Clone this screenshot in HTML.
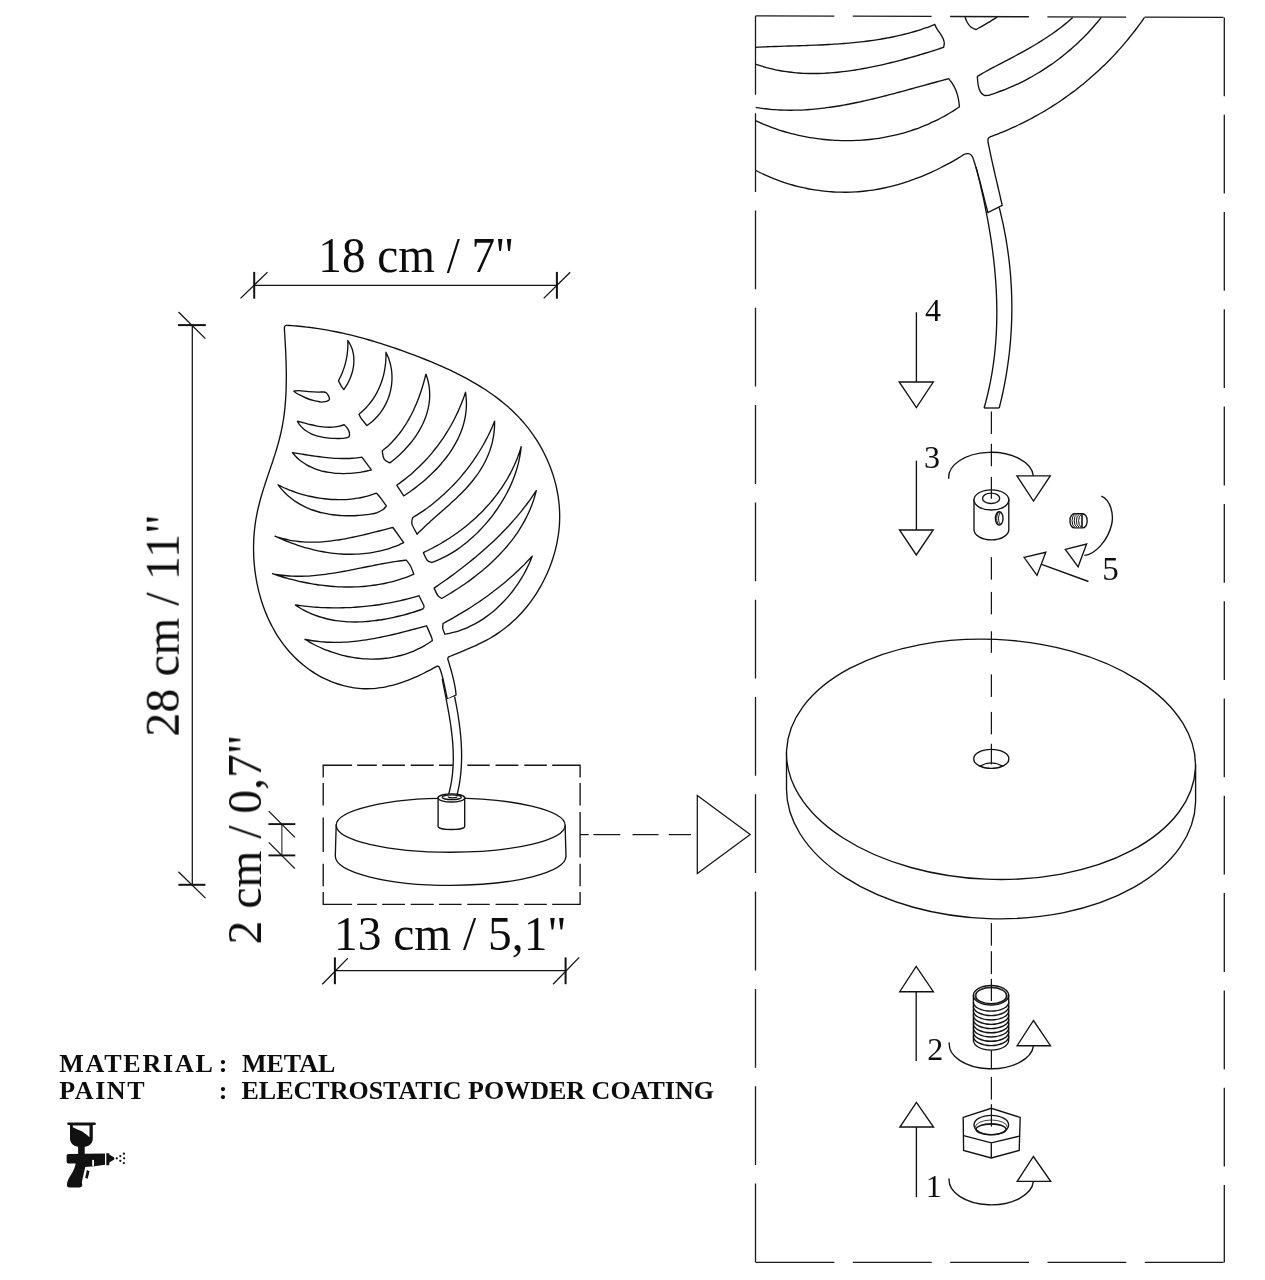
<!DOCTYPE html>
<html><head><meta charset="utf-8"><title>Leaf lamp assembly</title><style>
html,body{margin:0;padding:0;background:#fff;}
body{width:1265px;height:1280px;overflow:hidden;}
svg{display:block;}
.ln path,.ln line,.ln polygon,.ln ellipse,.ln rect,.ln use{fill:none;stroke:#111;stroke-width:1.35;}
#leaf path{fill:none;stroke:#111;stroke-width:1.35;vector-effect:non-scaling-stroke;stroke-linejoin:round;}
.ln .w{fill:#fff;}
.ln2 line,.ln2 polygon{fill:none;stroke:#151515;stroke-width:1.25;}
.dash1 path{stroke:#141414;stroke-width:1.35;fill:none;}
.dash2 line{stroke:#1a1a1a;stroke-width:1.3;stroke-dasharray:78.8 18.5;fill:none;}
.dim line{stroke:#111;stroke-width:1.25;}
.t text{font-family:"Liberation Serif",serif;fill:#0d0d0d;}
.t{filter:grayscale(1);}
svg{-webkit-font-smoothing:antialiased;}
</style></head>
<body><svg width="1265" height="1280" viewBox="0 0 1265 1280">
<defs>
<g id="leaf"><path d="M286.7,325.3C287.54,325.35 290.06,325.51 291.74,325.63C293.41,325.75 295.08,325.88 296.75,326.03C298.41,326.18 300.07,326.34 301.73,326.51C303.38,326.68 305.03,326.86 306.68,327.05C308.33,327.25 309.97,327.45 311.61,327.67C313.25,327.89 314.89,328.12 316.52,328.36C318.15,328.6 319.77,328.85 321.4,329.11C323.02,329.37 324.64,329.65 326.26,329.93C327.88,330.21 329.49,330.51 331.1,330.81C332.71,331.12 334.32,331.43 335.92,331.76C337.52,332.08 339.12,332.42 340.72,332.76C342.32,333.11 343.91,333.46 345.51,333.83C347.1,334.19 348.69,334.57 350.28,334.95C351.86,335.33 353.45,335.73 355.03,336.13C356.62,336.53 358.2,336.94 359.77,337.36C361.35,337.78 362.93,338.21 364.5,338.65C366.08,339.09 367.65,339.53 369.22,339.99C370.8,340.44 372.36,340.9 373.93,341.37C375.5,341.84 377.07,342.32 378.63,342.81C380.2,343.3 381.76,343.79 383.33,344.29C384.89,344.79 386.45,345.3 388.02,345.82C389.58,346.34 391.14,346.86 392.7,347.39C394.26,347.92 395.82,348.46 397.38,349.01C398.94,349.55 400.5,350.1 402.06,350.66C403.61,351.22 405.17,351.78 406.73,352.35C408.29,352.92 409.85,353.5 411.41,354.08C412.97,354.67 414.52,355.26 416.08,355.85C417.64,356.45 419.2,357.05 420.76,357.66C422.31,358.27 423.87,358.88 425.43,359.5C426.98,360.13 428.53,360.76 430.08,361.39C431.63,362.03 433.18,362.68 434.72,363.33C436.27,363.98 437.81,364.65 439.35,365.32C440.88,365.99 442.42,366.67 443.94,367.35C445.47,368.04 447,368.74 448.52,369.45C450.03,370.15 451.55,370.87 453.05,371.6C454.56,372.33 456.06,373.06 457.56,373.81C459.05,374.56 460.54,375.31 462.02,376.08C463.5,376.85 464.97,377.63 466.43,378.42C467.9,379.22 469.35,380.02 470.8,380.83C472.25,381.65 473.68,382.48 475.11,383.32C476.54,384.16 477.96,385.01 479.37,385.87C480.78,386.74 482.17,387.61 483.56,388.51C484.95,389.4 486.32,390.3 487.69,391.22C489.05,392.14 490.4,393.07 491.74,394.02C493.08,394.96 494.41,395.92 495.72,396.9C497.03,397.87 498.33,398.86 499.62,399.87C500.91,400.88 502.18,401.9 503.44,402.93C504.7,403.97 505.94,405.02 507.17,406.09C508.39,407.16 509.61,408.24 510.8,409.34C512,410.44 513.18,411.56 514.34,412.7C515.5,413.83 516.65,414.98 517.78,416.15C518.91,417.32 520.02,418.51 521.11,419.72C522.21,420.92 523.28,422.14 524.34,423.39C525.39,424.63 526.43,425.89 527.45,427.17C528.46,428.45 529.46,429.74 530.44,431.06C531.42,432.37 532.37,433.71 533.31,435.05C534.25,436.4 535.16,437.77 536.05,439.15C536.95,440.53 537.82,441.93 538.67,443.34C539.52,444.75 540.35,446.18 541.15,447.62C541.95,449.06 542.74,450.52 543.49,451.98C544.25,453.45 544.98,454.93 545.69,456.42C546.4,457.92 547.09,459.42 547.75,460.94C548.41,462.45 549.05,463.98 549.66,465.52C550.27,467.06 550.85,468.61 551.41,470.16C551.97,471.72 552.5,473.29 553.01,474.87C553.51,476.44 553.99,478.03 554.45,479.62C554.9,481.21 555.32,482.81 555.72,484.42C556.11,486.02 556.48,487.64 556.82,489.26C557.16,490.88 557.47,492.5 557.75,494.13C558.03,495.76 558.28,497.4 558.5,499.04C558.72,500.68 558.91,502.32 559.07,503.97C559.23,505.62 559.36,507.27 559.46,508.92C559.56,510.58 559.62,512.23 559.66,513.89C559.69,515.55 559.69,517.2 559.66,518.86C559.63,520.52 559.57,522.18 559.47,523.84C559.38,525.5 559.25,527.16 559.09,528.82C558.92,530.48 558.73,532.13 558.51,533.78C558.28,535.44 558.03,537.09 557.74,538.73C557.46,540.38 557.14,542.02 556.8,543.66C556.45,545.29 556.08,546.93 555.68,548.55C555.28,550.17 554.85,551.79 554.39,553.4C553.93,555.01 553.45,556.62 552.93,558.21C552.42,559.8 551.88,561.39 551.32,562.96C550.76,564.53 550.17,566.1 549.55,567.65C548.94,569.2 548.3,570.74 547.64,572.27C546.97,573.8 546.29,575.31 545.58,576.81C544.87,578.31 544.14,579.8 543.38,581.27C542.63,582.74 541.85,584.2 541.05,585.64C540.25,587.08 539.42,588.51 538.58,589.92C537.73,591.33 536.87,592.72 535.98,594.1C535.09,595.48 534.18,596.84 533.24,598.18C532.31,599.52 531.36,600.85 530.38,602.16C529.4,603.46 528.4,604.75 527.38,606.03C526.36,607.3 525.32,608.55 524.26,609.78C523.2,611.02 522.11,612.23 521.01,613.43C519.9,614.62 518.77,615.8 517.63,616.95C516.48,618.11 515.31,619.24 514.12,620.35C512.93,621.46 511.72,622.56 510.49,623.63C509.26,624.7 508.01,625.75 506.74,626.77C505.47,627.8 504.17,628.8 502.86,629.78C501.55,630.76 500.22,631.72 498.86,632.66C497.51,633.59 496.14,634.5 494.75,635.39C493.35,636.28 491.94,637.14 490.51,637.98C489.08,638.81 487.62,639.63 486.15,640.42C484.69,641.21 483.2,641.97 481.7,642.72C480.2,643.46 478.68,644.19 477.16,644.9C475.64,645.61 474.1,646.3 472.57,646.98C471.03,647.66 469.49,648.32 467.94,648.97C466.4,649.63 464.85,650.27 463.31,650.91C461.77,651.54 460.23,652.17 458.69,652.79C457.16,653.42 455.63,654.03 454.12,654.65C452.6,655.27 450.35,656.19 449.6,656.5C449.35,656.68 448.4,657.18 448.1,657.6C447.8,658.02 447.85,658.77 447.8,659C448.02,659.74 448.69,661.94 449.13,663.42C449.57,664.89 450.02,666.37 450.44,667.86C450.87,669.34 451.29,670.83 451.7,672.32C452.1,673.82 452.5,675.32 452.87,676.82C453.24,678.32 453.6,679.82 453.92,681.33C454.25,682.84 454.56,684.35 454.83,685.87C455.11,687.38 455.36,688.9 455.57,690.42C455.78,691.95 456.01,694.24 456.1,695L447.4,699C447.23,698.26 446.69,696.04 446.35,694.55C446.02,693.07 445.71,691.57 445.4,690.08C445.09,688.59 444.79,687.09 444.47,685.6C444.15,684.11 443.84,682.62 443.5,681.13C443.15,679.65 442.8,678.17 442.41,676.7C442.01,675.23 441.6,673.76 441.13,672.31C440.66,670.86 439.86,668.72 439.6,668C439.43,667.73 439.07,666.68 438.6,666.4C438.13,666.12 437.1,666.32 436.8,666.3C436.1,666.69 434.02,667.88 432.6,668.66C431.19,669.44 429.75,670.21 428.29,670.97C426.84,671.74 425.37,672.49 423.88,673.23C422.4,673.96 420.89,674.69 419.38,675.4C417.86,676.1 416.33,676.8 414.78,677.47C413.24,678.14 411.68,678.79 410.11,679.42C408.55,680.05 406.97,680.66 405.38,681.24C403.79,681.82 402.19,682.38 400.58,682.9C398.98,683.43 397.36,683.93 395.74,684.4C394.12,684.86 392.49,685.3 390.86,685.7C389.23,686.1 387.59,686.47 385.95,686.8C384.31,687.13 382.66,687.42 381.01,687.67C379.37,687.92 377.72,688.13 376.07,688.3C374.42,688.46 372.77,688.59 371.12,688.66C369.47,688.74 367.82,688.77 366.18,688.75C364.53,688.74 362.89,688.67 361.25,688.56C359.61,688.46 357.98,688.3 356.35,688.1C354.72,687.91 353.1,687.67 351.48,687.39C349.87,687.1 348.26,686.78 346.66,686.41C345.06,686.05 343.47,685.64 341.89,685.2C340.31,684.76 338.74,684.27 337.18,683.75C335.63,683.23 334.08,682.67 332.55,682.08C331.02,681.48 329.5,680.85 328,680.19C326.5,679.52 325.01,678.82 323.54,678.09C322.07,677.35 320.61,676.58 319.18,675.79C317.74,674.99 316.33,674.16 314.93,673.3C313.53,672.43 312.16,671.54 310.8,670.62C309.45,669.7 308.11,668.75 306.8,667.78C305.49,666.8 304.21,665.79 302.95,664.76C301.68,663.73 300.45,662.68 299.23,661.59C298.02,660.51 296.83,659.41 295.67,658.28C294.5,657.14 293.36,655.99 292.25,654.81C291.13,653.63 290.04,652.43 288.98,651.21C287.91,649.99 286.87,648.74 285.85,647.48C284.83,646.21 283.84,644.92 282.87,643.62C281.9,642.31 280.96,640.98 280.04,639.64C279.12,638.3 278.22,636.93 277.35,635.55C276.48,634.17 275.63,632.77 274.8,631.35C273.98,629.94 273.18,628.5 272.41,627.05C271.63,625.61 270.88,624.14 270.15,622.66C269.43,621.18 268.72,619.69 268.04,618.18C267.37,616.67 266.71,615.15 266.08,613.62C265.45,612.09 264.84,610.54 264.26,608.98C263.68,607.43 263.12,605.86 262.58,604.28C262.05,602.7 261.54,601.11 261.05,599.51C260.56,597.91 260.1,596.3 259.66,594.68C259.22,593.06 258.81,591.44 258.42,589.8C258.02,588.17 257.66,586.53 257.31,584.88C256.97,583.24 256.65,581.58 256.35,579.93C256.06,578.27 255.78,576.6 255.53,574.93C255.28,573.27 255.06,571.59 254.86,569.92C254.66,568.24 254.48,566.56 254.32,564.88C254.17,563.2 254.04,561.52 253.93,559.84C253.82,558.15 253.74,556.47 253.68,554.78C253.62,553.1 253.58,551.41 253.57,549.73C253.55,548.04 253.56,546.36 253.6,544.68C253.63,543 253.69,541.32 253.77,539.64C253.85,537.96 253.95,536.29 254.08,534.62C254.21,532.95 254.36,531.29 254.53,529.63C254.71,527.97 254.9,526.31 255.12,524.66C255.34,523.02 255.59,521.37 255.85,519.74C256.12,518.1 256.41,516.47 256.72,514.85C257.04,513.23 257.37,511.62 257.73,510.02C258.09,508.41 258.46,506.82 258.86,505.22C259.25,503.63 259.67,502.05 260.09,500.47C260.52,498.89 260.97,497.31 261.42,495.74C261.88,494.17 262.35,492.61 262.83,491.05C263.31,489.49 263.8,487.93 264.3,486.38C264.79,484.82 265.3,483.27 265.81,481.72C266.33,480.17 266.85,478.62 267.37,477.08C267.89,475.53 268.41,473.99 268.94,472.44C269.46,470.9 269.99,469.35 270.51,467.81C271.04,466.26 271.56,464.72 272.08,463.17C272.59,461.62 273.11,460.08 273.62,458.53C274.12,456.97 274.62,455.42 275.12,453.87C275.61,452.31 276.09,450.75 276.56,449.19C277.03,447.63 277.49,446.06 277.94,444.49C278.38,442.92 278.81,441.35 279.23,439.77C279.64,438.18 280.04,436.6 280.42,435C280.8,433.41 281.16,431.81 281.5,430.21C281.84,428.6 282.15,426.98 282.45,425.36C282.75,423.74 283.03,422.12 283.28,420.48C283.54,418.85 283.78,417.21 284,415.57C284.22,413.93 284.42,412.28 284.61,410.63C284.79,408.97 284.96,407.32 285.11,405.65C285.26,403.99 285.4,402.33 285.52,400.66C285.64,399 285.74,397.33 285.84,395.65C285.93,393.98 286,392.31 286.07,390.63C286.13,388.96 286.18,387.28 286.22,385.6C286.26,383.93 286.28,382.25 286.3,380.57C286.32,378.89 286.32,377.21 286.32,375.54C286.31,373.86 286.29,372.18 286.27,370.51C286.25,368.84 286.21,367.16 286.17,365.49C286.13,363.82 286.08,362.15 286.03,360.49C285.97,358.82 285.91,357.16 285.84,355.5C285.77,353.84 285.7,352.19 285.62,350.54C285.54,348.89 285.45,347.24 285.36,345.6C285.28,343.96 285.18,342.33 285.09,340.7C285,339.07 284.9,337.45 284.8,335.83C284.7,334.21 284.55,331.8 284.5,331C284.52,330.27 284.23,327.55 284.6,326.6C284.97,325.65 286.35,325.52 286.7,325.3Z"/><path d="M293.8,391.1C294.67,391.03 296.55,390.62 299,390.7C301.45,390.78 305.33,391.37 308.5,391.6C311.67,391.83 315.48,392.03 318,392.1C320.52,392.17 322.23,391.88 323.6,392C324.97,392.12 325.4,392.18 326.2,392.8C327,393.42 327.85,394.7 328.4,395.7C328.95,396.7 329.52,397.98 329.5,398.8C329.48,399.62 328.97,400.13 328.3,400.6C327.63,401.07 326.67,401.35 325.5,401.6C324.33,401.85 322.95,402.22 321.3,402.1C319.65,401.98 317.73,401.42 315.6,400.9C313.47,400.38 310.88,399.87 308.5,399C306.12,398.13 303.43,396.73 301.3,395.7C299.17,394.67 296.95,393.57 295.7,392.8C294.45,392.03 294.12,391.38 293.8,391.1Z"/><path d="M297.4,421.2C298.16,421.4 300.44,422.01 301.97,422.41C303.5,422.82 305.04,423.24 306.58,423.63C308.12,424.03 309.67,424.42 311.22,424.78C312.78,425.14 314.34,425.49 315.9,425.79C317.46,426.09 319.03,426.36 320.6,426.58C322.16,426.8 323.74,426.97 325.31,427.08C326.88,427.19 328.46,427.24 330.03,427.22C331.61,427.19 333.18,427.1 334.76,426.91C336.33,426.73 337.91,426.47 339.48,426.1C341.06,425.73 343.41,424.93 344.2,424.7C344.74,425.3 346.56,426.92 347.44,428.31C348.32,429.71 349.26,431.61 349.48,433.06C349.69,434.52 349.71,436.16 348.73,437.03C347.75,437.91 344.45,438.09 343.6,438.3C342.85,438.33 340.65,438.45 339.12,438.48C337.59,438.5 336.01,438.5 334.42,438.44C332.84,438.39 331.22,438.3 329.6,438.15C327.99,438.01 326.36,437.82 324.75,437.56C323.14,437.31 321.53,437 319.95,436.63C318.38,436.25 316.81,435.81 315.3,435.3C313.79,434.78 312.3,434.2 310.88,433.53C309.47,432.87 308.09,432.12 306.79,431.29C305.5,430.45 304.26,429.53 303.12,428.51C301.99,427.49 300.92,426.39 299.96,425.17C299.01,423.95 297.83,421.86 297.4,421.2Z"/><path d="M292.4,452.6C293.22,452.73 295.67,453.12 297.31,453.39C298.95,453.65 300.59,453.92 302.23,454.19C303.88,454.45 305.53,454.72 307.17,454.98C308.82,455.24 310.47,455.49 312.13,455.74C313.78,455.98 315.44,456.22 317.09,456.45C318.75,456.67 320.4,456.89 322.06,457.08C323.72,457.28 325.38,457.47 327.04,457.63C328.7,457.79 330.36,457.94 332.02,458.06C333.69,458.19 335.35,458.29 337.01,458.37C338.67,458.44 340.33,458.5 342,458.52C343.66,458.54 345.32,458.54 346.98,458.5C348.64,458.46 350.3,458.39 351.96,458.28C353.62,458.18 355.28,458.04 356.93,457.86C358.59,457.68 361.07,457.31 361.9,457.2L371.4,469.9C370.66,470.08 368.47,470.64 366.97,470.97C365.48,471.29 363.95,471.6 362.41,471.87C360.87,472.14 359.31,472.38 357.74,472.59C356.16,472.8 354.57,472.98 352.98,473.12C351.38,473.26 349.77,473.38 348.16,473.45C346.55,473.52 344.93,473.56 343.31,473.55C341.7,473.55 340.08,473.51 338.46,473.42C336.85,473.34 335.24,473.21 333.63,473.05C332.03,472.88 330.44,472.67 328.85,472.41C327.27,472.15 325.7,471.85 324.15,471.49C322.6,471.14 321.06,470.74 319.55,470.29C318.03,469.84 316.54,469.34 315.07,468.78C313.6,468.23 312.16,467.62 310.75,466.96C309.34,466.3 307.96,465.58 306.61,464.8C305.27,464.03 303.95,463.2 302.68,462.3C301.41,461.41 300.17,460.46 298.98,459.45C297.8,458.43 296.65,457.36 295.55,456.22C294.45,455.08 292.92,453.2 292.4,452.6Z"/><path d="M278.1,484.9C278.81,485.25 280.91,486.32 282.34,487C283.77,487.67 285.22,488.32 286.69,488.94C288.16,489.56 289.64,490.15 291.14,490.72C292.64,491.29 294.15,491.84 295.67,492.35C297.2,492.87 298.74,493.36 300.29,493.82C301.84,494.29 303.4,494.73 304.97,495.14C306.54,495.54 308.12,495.93 309.71,496.28C311.3,496.64 312.89,496.97 314.5,497.27C316.1,497.57 317.71,497.84 319.32,498.08C320.93,498.33 322.55,498.54 324.17,498.73C325.79,498.92 327.42,499.08 329.04,499.21C330.66,499.34 332.29,499.44 333.92,499.52C335.54,499.59 337.17,499.63 338.79,499.64C340.41,499.64 342.03,499.62 343.65,499.57C345.27,499.51 346.88,499.42 348.49,499.3C350.1,499.17 351.7,499.02 353.3,498.82C354.89,498.63 356.48,498.4 358.06,498.14C359.64,497.87 361.21,497.57 362.77,497.23C364.33,496.89 365.89,496.51 367.42,496.09C368.96,495.67 370.49,495.22 372,494.72C373.52,494.22 375.75,493.37 376.5,493.1C377.33,494.1 379.87,496.95 381.5,499.1C383.13,501.25 385.5,504.85 386.3,506C385.72,506.63 384.43,508.63 382.8,509.8C381.17,510.97 377.55,512.47 376.5,513C375.71,513.14 373.34,513.6 371.75,513.87C370.15,514.13 368.54,514.37 366.93,514.58C365.31,514.79 363.68,514.98 362.05,515.14C360.42,515.3 358.78,515.43 357.13,515.53C355.49,515.64 353.84,515.71 352.19,515.75C350.54,515.8 348.89,515.81 347.23,515.79C345.58,515.77 343.93,515.72 342.28,515.64C340.63,515.56 338.98,515.44 337.34,515.29C335.7,515.14 334.07,514.95 332.44,514.73C330.81,514.51 329.19,514.25 327.58,513.96C325.97,513.66 324.37,513.33 322.78,512.96C321.19,512.59 319.62,512.18 318.06,511.73C316.5,511.28 314.95,510.79 313.42,510.26C311.89,509.73 310.38,509.16 308.89,508.55C307.4,507.93 305.93,507.28 304.48,506.58C303.03,505.87 301.6,505.13 300.2,504.34C298.79,503.55 297.41,502.71 296.06,501.83C294.71,500.95 293.38,500.02 292.09,499.04C290.79,498.06 289.53,497.04 288.29,495.96C287.06,494.88 285.85,493.76 284.68,492.58C283.52,491.4 282.38,490.18 281.28,488.9C280.19,487.62 278.63,485.57 278.1,484.9Z"/><path d="M275,536.2C275.78,536.45 278.13,537.26 279.69,537.73C281.26,538.2 282.83,538.62 284.4,539.01C285.97,539.4 287.54,539.75 289.11,540.06C290.69,540.37 292.26,540.64 293.84,540.88C295.42,541.12 297,541.33 298.58,541.5C300.16,541.67 301.74,541.8 303.32,541.91C304.91,542.02 306.49,542.09 308.07,542.14C309.66,542.18 311.24,542.2 312.83,542.19C314.41,542.18 316,542.14 317.59,542.07C319.17,542.01 320.76,541.92 322.34,541.8C323.93,541.69 325.52,541.55 327.1,541.4C328.69,541.24 330.28,541.06 331.86,540.86C333.45,540.66 335.03,540.44 336.62,540.2C338.2,539.97 339.78,539.71 341.37,539.45C342.95,539.18 344.53,538.89 346.11,538.59C347.69,538.29 349.27,537.98 350.85,537.66C352.43,537.33 354,537 355.58,536.65C357.15,536.31 358.72,535.95 360.29,535.59C361.86,535.23 363.43,534.85 365,534.48C366.57,534.1 368.13,533.72 369.69,533.33C371.25,532.95 372.81,532.56 374.37,532.17C375.93,531.77 377.48,531.38 379.03,530.99C380.58,530.59 382.13,530.2 383.67,529.81C385.22,529.42 386.76,529.03 388.3,528.64C389.83,528.26 392.13,527.69 392.9,527.5L403.7,542.7C402.94,543.05 400.65,544.12 399.12,544.78C397.58,545.43 396.03,546.05 394.48,546.63C392.93,547.21 391.37,547.76 389.8,548.27C388.23,548.79 386.65,549.26 385.07,549.71C383.49,550.15 381.9,550.56 380.31,550.94C378.71,551.31 377.12,551.65 375.51,551.96C373.91,552.27 372.3,552.55 370.68,552.8C369.07,553.05 367.45,553.26 365.83,553.44C364.21,553.63 362.59,553.78 360.96,553.9C359.34,554.03 357.71,554.12 356.08,554.18C354.45,554.25 352.81,554.28 351.18,554.29C349.55,554.3 347.91,554.27 346.28,554.23C344.64,554.18 343,554.1 341.37,554C339.73,553.89 338.1,553.76 336.47,553.61C334.83,553.45 333.2,553.27 331.57,553.06C329.94,552.86 328.31,552.62 326.68,552.37C325.06,552.11 323.44,551.83 321.82,551.53C320.2,551.22 318.58,550.89 316.97,550.54C315.36,550.2 313.75,549.82 312.14,549.43C310.54,549.03 308.94,548.62 307.35,548.18C305.76,547.74 304.17,547.29 302.59,546.81C301.01,546.33 299.44,545.83 297.87,545.31C296.3,544.8 294.74,544.26 293.19,543.7C291.64,543.15 290.1,542.57 288.56,541.98C287.03,541.39 285.5,540.78 283.98,540.15C282.47,539.53 280.96,538.88 279.46,538.23C277.96,537.57 275.74,536.54 275,536.2Z"/><path d="M272.5,573.7C273.31,573.85 275.73,574.32 277.34,574.58C278.95,574.84 280.56,575.06 282.17,575.26C283.78,575.45 285.39,575.61 287,575.75C288.6,575.89 290.21,575.99 291.81,576.07C293.42,576.15 295.02,576.2 296.62,576.23C298.23,576.25 299.83,576.25 301.43,576.23C303.03,576.21 304.63,576.16 306.22,576.1C307.82,576.03 309.42,575.94 311.02,575.83C312.61,575.72 314.21,575.59 315.8,575.44C317.4,575.3 318.99,575.13 320.58,574.95C322.18,574.77 323.77,574.57 325.36,574.36C326.95,574.15 328.54,573.92 330.13,573.68C331.72,573.45 333.31,573.19 334.9,572.93C336.49,572.67 338.08,572.4 339.67,572.12C341.25,571.84 342.84,571.55 344.43,571.25C346.02,570.95 347.6,570.65 349.19,570.34C350.78,570.03 352.36,569.72 353.95,569.4C355.53,569.08 357.12,568.76 358.71,568.44C360.29,568.12 361.88,567.8 363.46,567.47C365.05,567.15 366.63,566.83 368.22,566.51C369.8,566.19 371.39,565.87 372.97,565.56C374.56,565.24 376.14,564.93 377.73,564.63C379.32,564.32 380.9,564.03 382.49,563.74C384.07,563.45 385.66,563.16 387.25,562.89C388.83,562.62 390.42,562.36 392.01,562.1C393.59,561.85 395.18,561.61 396.77,561.39C398.36,561.16 399.94,560.95 401.53,560.75C403.12,560.55 405.51,560.29 406.3,560.2C406.93,561.05 408.83,562.97 410.1,565.3C411.37,567.63 413.27,572.72 413.9,574.2C413.13,574.52 410.82,575.5 409.27,576.11C407.72,576.72 406.17,577.3 404.6,577.86C403.03,578.41 401.46,578.94 399.88,579.44C398.3,579.94 396.71,580.41 395.11,580.86C393.52,581.31 391.92,581.73 390.31,582.13C388.7,582.53 387.09,582.9 385.47,583.24C383.85,583.59 382.23,583.91 380.6,584.21C378.97,584.5 377.34,584.78 375.7,585.02C374.07,585.27 372.42,585.5 370.78,585.7C369.13,585.9 367.49,586.07 365.83,586.23C364.18,586.38 362.53,586.51 360.87,586.62C359.21,586.73 357.55,586.82 355.89,586.88C354.23,586.95 352.57,586.99 350.91,587.01C349.24,587.03 347.58,587.03 345.91,587.01C344.24,586.99 342.58,586.95 340.91,586.89C339.24,586.82 337.58,586.74 335.91,586.64C334.25,586.54 332.58,586.41 330.92,586.27C329.25,586.13 327.59,585.97 325.93,585.79C324.26,585.61 322.6,585.41 320.95,585.19C319.29,584.98 317.63,584.74 315.98,584.49C314.33,584.23 312.68,583.96 311.03,583.67C309.39,583.39 307.75,583.08 306.11,582.76C304.47,582.44 302.83,582.1 301.2,581.74C299.58,581.39 297.95,581.01 296.33,580.63C294.71,580.24 293.1,579.84 291.49,579.42C289.88,579 288.28,578.57 286.68,578.12C285.08,577.67 283.49,577.21 281.91,576.73C280.33,576.25 278.75,575.76 277.18,575.26C275.61,574.75 273.28,573.96 272.5,573.7Z"/><path d="M295.3,605C296.09,605.11 298.45,605.44 300.03,605.63C301.6,605.83 303.19,606.02 304.77,606.19C306.36,606.36 307.94,606.52 309.53,606.66C311.12,606.81 312.72,606.94 314.31,607.06C315.91,607.18 317.5,607.28 319.1,607.38C320.7,607.47 322.3,607.55 323.9,607.61C325.51,607.68 327.11,607.73 328.71,607.77C330.32,607.81 331.92,607.83 333.53,607.84C335.14,607.86 336.75,607.85 338.35,607.84C339.96,607.83 341.57,607.8 343.18,607.76C344.79,607.72 346.39,607.66 348,607.6C349.61,607.53 351.22,607.45 352.83,607.35C354.43,607.26 356.04,607.15 357.64,607.03C359.25,606.91 360.86,606.78 362.46,606.64C364.06,606.49 365.66,606.33 367.26,606.16C368.86,605.98 370.46,605.8 372.06,605.6C373.66,605.4 375.25,605.19 376.84,604.96C378.44,604.74 380.03,604.5 381.61,604.25C383.2,604 384.78,603.73 386.36,603.45C387.95,603.18 389.52,602.89 391.1,602.58C392.67,602.28 394.25,601.96 395.81,601.63C397.38,601.3 398.94,600.96 400.5,600.6C402.06,600.25 403.62,599.88 405.17,599.49C406.72,599.11 408.27,598.72 409.81,598.31C411.35,597.9 412.89,597.48 414.42,597.04C415.95,596.61 418.24,595.92 419,595.7L424,605.8C423.8,606.32 424.7,607.8 422.8,608.9C420.9,610 414.3,611.82 412.6,612.4C411.83,612.63 409.52,613.31 407.97,613.75C406.42,614.19 404.86,614.62 403.3,615.03C401.73,615.44 400.16,615.84 398.58,616.23C397,616.61 395.42,616.98 393.83,617.33C392.23,617.69 390.64,618.02 389.04,618.34C387.44,618.66 385.83,618.96 384.22,619.24C382.62,619.53 381,619.79 379.39,620.03C377.78,620.27 376.16,620.5 374.54,620.7C372.92,620.9 371.3,621.08 369.68,621.23C368.06,621.38 366.44,621.52 364.82,621.62C363.2,621.73 361.58,621.81 359.96,621.87C358.34,621.92 356.72,621.95 355.11,621.96C353.49,621.96 351.88,621.93 350.27,621.88C348.66,621.82 347.05,621.74 345.45,621.63C343.85,621.51 342.25,621.37 340.65,621.19C339.06,621.02 337.47,620.81 335.89,620.57C334.31,620.33 332.73,620.06 331.16,619.75C329.59,619.44 328.03,619.1 326.47,618.72C324.92,618.34 323.37,617.93 321.83,617.47C320.29,617.02 318.76,616.53 317.24,616C315.72,615.47 314.21,614.91 312.72,614.3C311.22,613.69 309.73,613.05 308.25,612.36C306.77,611.67 305.31,610.94 303.86,610.17C302.4,609.39 300.96,608.58 299.54,607.72C298.11,606.86 296.01,605.45 295.3,605Z"/><path d="M305,639.3C305.82,639.46 308.28,639.96 309.92,640.25C311.57,640.54 313.21,640.79 314.85,641.01C316.49,641.24 318.13,641.43 319.77,641.6C321.41,641.76 323.06,641.9 324.7,642.01C326.34,642.12 327.98,642.21 329.62,642.27C331.26,642.32 332.9,642.36 334.54,642.37C336.18,642.37 337.82,642.36 339.45,642.32C341.09,642.28 342.73,642.22 344.37,642.13C346,642.05 347.64,641.94 349.27,641.82C350.91,641.69 352.54,641.55 354.18,641.38C355.81,641.22 357.44,641.04 359.07,640.84C360.71,640.63 362.34,640.42 363.96,640.18C365.59,639.95 367.22,639.7 368.85,639.43C370.47,639.16 372.1,638.88 373.72,638.59C375.35,638.3 376.97,637.99 378.59,637.67C380.21,637.35 381.83,637.02 383.44,636.68C385.06,636.33 386.68,635.98 388.29,635.62C389.9,635.25 391.51,634.88 393.12,634.5C394.73,634.12 396.34,633.73 397.95,633.34C399.55,632.94 401.16,632.54 402.76,632.14C404.36,631.73 405.96,631.32 407.56,630.9C409.15,630.48 410.75,630.06 412.34,629.64C413.93,629.22 415.52,628.79 417.11,628.37C418.7,627.94 420.28,627.51 421.86,627.08C423.44,626.66 425.81,626.01 426.6,625.8C427.43,627.73 430.65,634.93 431.6,637.4C432.55,639.87 432.18,640.07 432.3,640.6C431.6,641.08 429.5,642.56 428.07,643.48C426.65,644.39 425.2,645.27 423.74,646.1C422.28,646.93 420.8,647.72 419.3,648.47C417.81,649.21 416.29,649.92 414.77,650.59C413.25,651.25 411.71,651.88 410.15,652.46C408.6,653.04 407.04,653.59 405.46,654.09C403.89,654.6 402.3,655.06 400.7,655.49C399.11,655.91 397.5,656.3 395.89,656.65C394.27,657 392.65,657.31 391.02,657.58C389.39,657.85 387.76,658.09 386.12,658.28C384.48,658.48 382.83,658.64 381.18,658.77C379.53,658.89 377.87,658.98 376.22,659.03C374.56,659.08 372.9,659.1 371.24,659.08C369.58,659.06 367.92,659.01 366.26,658.92C364.6,658.83 362.94,658.7 361.28,658.55C359.63,658.39 357.97,658.2 356.32,657.97C354.67,657.75 353.02,657.49 351.37,657.2C349.73,656.91 348.09,656.59 346.46,656.23C344.83,655.87 343.2,655.49 341.58,655.07C339.96,654.65 338.35,654.2 336.75,653.72C335.15,653.24 333.56,652.72 331.98,652.18C330.4,651.64 328.83,651.07 327.27,650.47C325.71,649.86 324.16,649.23 322.63,648.57C321.1,647.91 319.58,647.22 318.08,646.5C316.58,645.79 315.09,645.04 313.62,644.27C312.15,643.49 310.69,642.69 309.25,641.86C307.82,641.04 305.71,639.73 305,639.3Z"/><path d="M347.8,340.5C348.22,341.2 349.6,343.25 350.32,344.68C351.04,346.11 351.64,347.59 352.14,349.08C352.64,350.57 353.02,352.1 353.3,353.64C353.59,355.18 353.76,356.75 353.84,358.32C353.93,359.88 353.91,361.47 353.81,363.04C353.71,364.62 353.51,366.21 353.24,367.78C352.97,369.35 352.6,370.92 352.17,372.46C351.74,374 351.23,375.54 350.66,377.04C350.08,378.53 349.43,380.02 348.73,381.45C348.02,382.89 347.25,384.3 346.43,385.66C345.61,387.02 344.24,388.94 343.8,389.6C343.35,388.97 341.98,387.28 341.1,385.8C340.22,384.32 338.93,381.55 338.5,380.7C338.85,380 339.95,377.92 340.61,376.51C341.27,375.1 341.88,373.67 342.46,372.23C343.03,370.79 343.56,369.34 344.04,367.88C344.53,366.41 344.97,364.93 345.36,363.45C345.76,361.96 346.11,360.46 346.41,358.95C346.72,357.44 346.98,355.93 347.19,354.4C347.4,352.88 347.56,351.34 347.68,349.81C347.79,348.27 347.86,346.72 347.88,345.17C347.9,343.62 347.81,341.28 347.8,340.5Z"/><path d="M386,352.3C386.34,353.06 387.43,355.32 388.04,356.86C388.65,358.39 389.19,359.95 389.66,361.51C390.12,363.08 390.52,364.66 390.84,366.24C391.17,367.83 391.42,369.42 391.61,371.02C391.8,372.62 391.92,374.22 391.97,375.82C392.02,377.42 392.01,379.03 391.93,380.62C391.85,382.21 391.7,383.81 391.49,385.39C391.28,386.97 391,388.54 390.66,390.1C390.32,391.65 389.92,393.2 389.45,394.72C388.99,396.25 388.46,397.76 387.87,399.24C387.29,400.73 386.64,402.19 385.93,403.62C385.22,405.06 384.45,406.47 383.63,407.84C382.8,409.22 381.91,410.57 380.97,411.88C380.03,413.19 379.03,414.46 377.98,415.7C376.92,416.93 375.81,418.12 374.64,419.27C373.48,420.42 372.26,421.53 370.98,422.58C369.71,423.64 367.66,425.1 367,425.6C366.05,424.45 362.63,420.6 361.3,418.7C359.97,416.8 359.38,414.95 359,414.2C359.61,413.67 361.49,412.13 362.67,411.05C363.85,409.97 364.98,408.85 366.06,407.71C367.14,406.56 368.18,405.39 369.17,404.19C370.16,402.99 371.11,401.76 372.01,400.5C372.91,399.25 373.76,397.97 374.57,396.66C375.38,395.36 376.15,394.03 376.87,392.68C377.59,391.33 378.26,389.95 378.9,388.56C379.53,387.17 380.12,385.75 380.67,384.32C381.21,382.89 381.72,381.44 382.18,379.98C382.64,378.52 383.06,377.03 383.43,375.54C383.81,374.05 384.14,372.54 384.44,371.01C384.73,369.49 384.98,367.96 385.19,366.42C385.4,364.87 385.57,363.32 385.7,361.76C385.83,360.2 385.92,358.62 385.97,357.05C386.02,355.47 385.99,353.09 386,352.3Z"/><path d="M425.9,374.1C426.17,374.92 427.05,377.38 427.52,379.01C427.98,380.65 428.36,382.28 428.67,383.91C428.99,385.54 429.22,387.17 429.39,388.79C429.56,390.42 429.66,392.04 429.69,393.65C429.73,395.26 429.69,396.86 429.6,398.46C429.5,400.06 429.34,401.65 429.12,403.23C428.9,404.81 428.62,406.38 428.28,407.94C427.94,409.5 427.55,411.05 427.1,412.59C426.66,414.13 426.15,415.65 425.6,417.16C425.05,418.67 424.45,420.17 423.8,421.65C423.16,423.13 422.46,424.6 421.72,426.05C420.99,427.5 420.2,428.93 419.38,430.34C418.56,431.76 417.7,433.15 416.8,434.53C415.9,435.9 414.96,437.26 413.99,438.59C413.03,439.92 412.02,441.24 410.99,442.53C409.95,443.81 408.89,445.08 407.8,446.32C406.71,447.56 405.59,448.78 404.45,449.97C403.3,451.16 402.14,452.32 400.95,453.46C399.76,454.6 398.55,455.71 397.33,456.79C396.11,457.86 394.86,458.92 393.61,459.93C392.35,460.95 390.43,462.41 389.8,462.9C388.85,462.27 385.37,461.1 384.1,459.1C382.83,457.1 382.52,452.27 382.2,450.9C382.82,450.39 384.7,448.9 385.9,447.86C387.11,446.83 388.28,445.76 389.42,444.66C390.56,443.57 391.68,442.45 392.76,441.3C393.84,440.16 394.9,438.99 395.93,437.8C396.95,436.61 397.95,435.39 398.92,434.15C399.89,432.92 400.84,431.66 401.75,430.38C402.67,429.1 403.56,427.81 404.43,426.49C405.29,425.18 406.13,423.84 406.94,422.49C407.76,421.14 408.55,419.78 409.31,418.39C410.08,417.01 410.82,415.62 411.54,414.21C412.26,412.8 412.95,411.37 413.62,409.94C414.3,408.51 414.95,407.06 415.58,405.6C416.21,404.15 416.81,402.68 417.4,401.21C417.99,399.73 418.55,398.25 419.1,396.76C419.64,395.27 420.17,393.77 420.68,392.27C421.18,390.77 421.67,389.26 422.14,387.75C422.61,386.24 423.06,384.73 423.5,383.21C423.93,381.69 424.35,380.17 424.75,378.66C425.15,377.14 425.71,374.86 425.9,374.1Z"/><path d="M465.5,392.3C465.6,393.14 465.98,395.68 466.13,397.35C466.28,399.03 466.36,400.69 466.4,402.34C466.43,404 466.41,405.64 466.33,407.27C466.25,408.9 466.12,410.52 465.94,412.12C465.75,413.73 465.51,415.32 465.23,416.91C464.94,418.49 464.61,420.06 464.23,421.61C463.84,423.17 463.41,424.72 462.94,426.25C462.47,427.78 461.95,429.29 461.38,430.8C460.82,432.3 460.22,433.79 459.57,435.27C458.93,436.74 458.25,438.2 457.52,439.65C456.8,441.1 456.04,442.53 455.25,443.95C454.45,445.36 453.62,446.76 452.76,448.15C451.9,449.53 451,450.91 450.08,452.26C449.15,453.61 448.19,454.95 447.21,456.27C446.22,457.59 445.21,458.9 444.17,460.19C443.13,461.47 442.07,462.75 440.98,464C439.89,465.25 438.78,466.49 437.65,467.71C436.51,468.92 435.36,470.12 434.19,471.31C433.02,472.49 431.82,473.65 430.62,474.8C429.41,475.94 428.19,477.07 426.95,478.17C425.71,479.28 424.46,480.37 423.2,481.43C421.94,482.5 420.66,483.55 419.38,484.57C418.1,485.6 416.8,486.61 415.51,487.59C414.21,488.58 412.9,489.55 411.59,490.49C410.28,491.44 408.97,492.36 407.65,493.26C406.34,494.16 404.36,495.46 403.7,495.9L396.7,485.2C397.37,484.72 399.38,483.32 400.7,482.35C402.02,481.38 403.33,480.39 404.62,479.39C405.91,478.38 407.19,477.36 408.45,476.32C409.72,475.28 410.96,474.22 412.19,473.15C413.43,472.07 414.64,470.98 415.84,469.87C417.05,468.77 418.23,467.64 419.4,466.5C420.57,465.36 421.73,464.21 422.86,463.04C424,461.87 425.12,460.68 426.23,459.48C427.33,458.28 428.42,457.06 429.5,455.83C430.57,454.6 431.62,453.36 432.66,452.1C433.7,450.84 434.72,449.56 435.73,448.28C436.73,446.99 437.72,445.69 438.69,444.38C439.66,443.07 440.61,441.74 441.55,440.4C442.48,439.06 443.4,437.71 444.29,436.35C445.19,434.99 446.07,433.61 446.93,432.22C447.8,430.84 448.64,429.44 449.46,428.03C450.29,426.62 451.09,425.2 451.88,423.77C452.67,422.34 453.43,420.89 454.18,419.44C454.93,417.99 455.66,416.53 456.37,415.05C457.08,413.58 457.77,412.1 458.44,410.61C459.11,409.12 459.76,407.62 460.39,406.11C461.02,404.6 461.63,403.08 462.22,401.55C462.8,400.03 463.37,398.49 463.92,396.95C464.47,395.41 465.24,393.08 465.5,392.3Z"/><path d="M494.6,421.2C494.59,422.07 494.6,424.68 494.52,426.4C494.44,428.11 494.31,429.8 494.14,431.48C493.96,433.15 493.74,434.8 493.47,436.43C493.2,438.07 492.88,439.68 492.52,441.28C492.16,442.87 491.76,444.45 491.31,446C490.86,447.56 490.37,449.1 489.84,450.62C489.31,452.13 488.74,453.63 488.13,455.11C487.53,456.6 486.88,458.06 486.19,459.5C485.51,460.94 484.79,462.37 484.04,463.78C483.28,465.18 482.49,466.57 481.67,467.94C480.85,469.31 479.99,470.66 479.11,472C478.22,473.33 477.31,474.65 476.36,475.95C475.42,477.25 474.44,478.53 473.44,479.79C472.44,481.05 471.42,482.3 470.37,483.53C469.32,484.76 468.24,485.98 467.15,487.18C466.06,488.38 464.94,489.57 463.81,490.75C462.68,491.93 461.53,493.09 460.36,494.25C459.2,495.4 458.02,496.54 456.83,497.68C455.64,498.82 454.43,499.94 453.22,501.06C452.01,502.18 450.79,503.3 449.56,504.4C448.34,505.51 447.1,506.61 445.87,507.71C444.63,508.81 443.39,509.91 442.15,511C440.91,512.09 439.67,513.18 438.44,514.27C437.2,515.36 435.96,516.45 434.74,517.54C433.51,518.63 432.29,519.72 431.07,520.82C429.86,521.92 428.65,523.01 427.46,524.11C426.27,525.22 425.08,526.32 423.91,527.44C422.75,528.55 421.59,529.67 420.45,530.79C419.32,531.92 417.66,533.63 417.1,534.2C416.25,532.52 412.75,526.85 412,524.1C411.25,521.35 412.5,518.77 412.6,517.7C413.3,517.27 415.4,516 416.79,515.12C418.17,514.24 419.55,513.34 420.91,512.42C422.27,511.51 423.63,510.57 424.97,509.62C426.31,508.66 427.64,507.69 428.96,506.7C430.28,505.71 431.58,504.7 432.88,503.68C434.17,502.66 435.46,501.62 436.73,500.56C438,499.5 439.25,498.43 440.5,497.34C441.74,496.25 442.98,495.14 444.19,494.02C445.41,492.9 446.62,491.76 447.81,490.61C449,489.45 450.18,488.29 451.34,487.11C452.5,485.92 453.65,484.73 454.79,483.52C455.92,482.31 457.04,481.08 458.15,479.84C459.25,478.6 460.34,477.35 461.42,476.09C462.49,474.82 463.55,473.54 464.59,472.25C465.64,470.96 466.66,469.66 467.68,468.34C468.69,467.03 469.68,465.7 470.66,464.36C471.64,463.02 472.6,461.67 473.54,460.31C474.49,458.95 475.42,457.58 476.33,456.19C477.24,454.81 478.13,453.42 479,452.01C479.88,450.61 480.74,449.19 481.57,447.77C482.41,446.34 483.23,444.91 484.03,443.47C484.84,442.02 485.62,440.57 486.38,439.11C487.15,437.65 487.89,436.18 488.61,434.7C489.34,433.23 490.05,431.74 490.73,430.25C491.42,428.75 492.08,427.25 492.73,425.75C493.37,424.24 494.29,421.96 494.6,421.2Z"/><path d="M521.2,446.7C521.1,447.52 520.85,449.98 520.62,451.61C520.39,453.24 520.13,454.86 519.83,456.48C519.53,458.09 519.19,459.7 518.83,461.3C518.46,462.9 518.06,464.49 517.63,466.07C517.2,467.66 516.73,469.23 516.24,470.8C515.74,472.36 515.21,473.92 514.66,475.47C514.1,477.01 513.52,478.55 512.9,480.08C512.29,481.61 511.64,483.12 510.97,484.63C510.3,486.14 509.6,487.63 508.88,489.12C508.15,490.6 507.4,492.08 506.62,493.54C505.85,495 505.04,496.45 504.22,497.89C503.39,499.33 502.54,500.76 501.66,502.17C500.79,503.58 499.89,504.99 498.97,506.37C498.05,507.76 497.11,509.14 496.15,510.5C495.18,511.86 494.2,513.21 493.2,514.54C492.19,515.88 491.17,517.19 490.13,518.5C489.09,519.8 488.03,521.09 486.95,522.37C485.87,523.64 484.77,524.9 483.66,526.14C482.54,527.38 481.41,528.61 480.26,529.81C479.11,531.02 477.94,532.2 476.76,533.37C475.57,534.53 474.37,535.68 473.15,536.8C471.93,537.93 470.69,539.03 469.44,540.11C468.18,541.18 466.91,542.24 465.62,543.27C464.33,544.3 463.03,545.31 461.71,546.29C460.39,547.27 459.05,548.22 457.69,549.15C456.34,550.07 454.97,550.97 453.58,551.84C452.19,552.71 450.79,553.55 449.37,554.36C447.95,555.16 446.52,555.94 445.07,556.69C443.62,557.44 442.15,558.15 440.67,558.83C439.19,559.51 437.69,560.16 436.18,560.77C434.67,561.38 432.36,562.21 431.6,562.5C430.87,562.12 428.57,561.85 427.2,560.2C425.83,558.55 424.03,553.87 423.4,552.6C424.14,552.25 426.35,551.21 427.82,550.49C429.29,549.76 430.75,549.02 432.2,548.26C433.66,547.5 435.11,546.73 436.54,545.93C437.98,545.14 439.42,544.32 440.84,543.49C442.26,542.66 443.68,541.81 445.08,540.95C446.49,540.08 447.88,539.2 449.27,538.29C450.65,537.39 452.03,536.48 453.39,535.54C454.76,534.61 456.11,533.65 457.46,532.68C458.8,531.72 460.13,530.73 461.45,529.73C462.77,528.73 464.07,527.71 465.37,526.67C466.66,525.64 467.94,524.58 469.21,523.52C470.47,522.45 471.73,521.36 472.96,520.26C474.2,519.17 475.42,518.05 476.63,516.92C477.84,515.79 479.03,514.64 480.21,513.48C481.39,512.31 482.55,511.14 483.69,509.94C484.83,508.75 485.96,507.54 487.07,506.32C488.18,505.09 489.27,503.86 490.34,502.6C491.41,501.35 492.47,500.08 493.51,498.8C494.54,497.51 495.56,496.22 496.55,494.91C497.55,493.59 498.53,492.27 499.48,490.93C500.44,489.59 501.37,488.23 502.29,486.86C503.2,485.5 504.09,484.11 504.96,482.72C505.83,481.32 506.68,479.91 507.51,478.49C508.33,477.07 509.13,475.63 509.91,474.18C510.69,472.73 511.44,471.27 512.17,469.79C512.9,468.32 513.61,466.83 514.29,465.32C514.97,463.82 515.63,462.31 516.26,460.78C516.89,459.25 517.49,457.71 518.07,456.16C518.64,454.61 519.19,453.04 519.72,451.47C520.24,449.89 520.95,447.49 521.2,446.7Z"/><path d="M536.3,490.6C536.09,491.4 535.49,493.82 535.03,495.4C534.58,496.99 534.09,498.56 533.58,500.12C533.06,501.68 532.51,503.23 531.94,504.76C531.36,506.29 530.75,507.8 530.12,509.31C529.49,510.81 528.82,512.3 528.13,513.77C527.44,515.25 526.72,516.7 525.98,518.15C525.24,519.6 524.47,521.03 523.67,522.45C522.88,523.86 522.06,525.27 521.21,526.66C520.37,528.05 519.5,529.42 518.61,530.78C517.72,532.15 516.8,533.49 515.86,534.83C514.93,536.16 513.97,537.48 512.99,538.79C512.01,540.09 511.01,541.38 509.99,542.66C508.97,543.94 507.92,545.21 506.87,546.46C505.81,547.71 504.73,548.94 503.63,550.17C502.54,551.39 501.42,552.6 500.29,553.79C499.16,554.99 498.01,556.17 496.85,557.34C495.69,558.51 494.51,559.66 493.31,560.8C492.12,561.94 490.91,563.07 489.69,564.18C488.47,565.29 487.24,566.39 485.99,567.48C484.74,568.56 483.48,569.64 482.21,570.69C480.94,571.75 479.65,572.8 478.36,573.83C477.07,574.86 475.76,575.88 474.45,576.88C473.14,577.89 471.82,578.88 470.49,579.85C469.16,580.83 467.82,581.79 466.47,582.74C465.13,583.69 463.77,584.63 462.41,585.55C461.05,586.48 459.69,587.39 458.32,588.28C456.95,589.18 455.57,590.06 454.19,590.93C452.81,591.8 451.43,592.66 450.04,593.5C448.66,594.35 447.27,595.17 445.88,595.99C444.49,596.81 442.4,598 441.7,598.4C441.07,597.95 439.17,597.42 437.9,595.7C436.63,593.98 434.73,589.37 434.1,588.1C434.77,587.64 436.79,586.26 438.12,585.33C439.46,584.4 440.8,583.47 442.13,582.53C443.47,581.6 444.8,580.65 446.12,579.7C447.45,578.76 448.77,577.8 450.09,576.84C451.41,575.88 452.73,574.91 454.04,573.94C455.35,572.97 456.66,571.99 457.97,571.01C459.27,570.03 460.57,569.04 461.86,568.04C463.16,567.04 464.45,566.04 465.73,565.03C467.02,564.02 468.3,563 469.57,561.98C470.85,560.96 472.11,559.93 473.38,558.89C474.64,557.85 475.89,556.81 477.14,555.76C478.39,554.71 479.64,553.65 480.87,552.58C482.11,551.51 483.34,550.44 484.57,549.36C485.79,548.28 487,547.19 488.21,546.09C489.42,544.99 490.62,543.89 491.82,542.78C493.01,541.66 494.2,540.54 495.37,539.41C496.55,538.28 497.72,537.14 498.88,535.99C500.04,534.85 501.19,533.69 502.33,532.53C503.48,531.36 504.61,530.19 505.74,529.01C506.86,527.83 507.98,526.63 509.08,525.43C510.19,524.23 511.28,523.02 512.37,521.8C513.46,520.58 514.53,519.36 515.6,518.12C516.66,516.88 517.72,515.63 518.76,514.37C519.8,513.11 520.84,511.84 521.86,510.57C522.88,509.29 523.89,508 524.89,506.7C525.89,505.4 526.88,504.09 527.85,502.77C528.83,501.45 529.79,500.12 530.74,498.78C531.7,497.44 532.63,496.09 533.56,494.72C534.49,493.36 535.84,491.29 536.3,490.6Z"/><path d="M532.2,556.2C531.64,556.8 529.99,558.62 528.87,559.81C527.75,561.01 526.61,562.19 525.47,563.36C524.33,564.53 523.18,565.68 522.01,566.83C520.85,567.98 519.68,569.11 518.5,570.24C517.32,571.36 516.13,572.48 514.93,573.58C513.73,574.68 512.52,575.77 511.3,576.85C510.08,577.93 508.85,579 507.62,580.06C506.38,581.12 505.14,582.17 503.89,583.21C502.64,584.25 501.37,585.28 500.11,586.3C498.84,587.32 497.56,588.32 496.28,589.32C494.99,590.32 493.7,591.31 492.4,592.28C491.1,593.26 489.8,594.23 488.48,595.19C487.17,596.15 485.85,597.1 484.52,598.03C483.19,598.97 481.86,599.9 480.52,600.82C479.18,601.74 477.83,602.65 476.48,603.55C475.13,604.46 473.77,605.35 472.4,606.23C471.04,607.11 469.67,607.99 468.29,608.85C466.92,609.72 465.54,610.57 464.15,611.42C462.76,612.27 461.37,613.11 459.97,613.94C458.58,614.77 457.18,615.59 455.77,616.4C454.36,617.22 452.95,618.02 451.54,618.82C450.12,619.61 448.7,620.4 447.28,621.18C445.86,621.96 443.71,623.11 443,623.5C442.97,624.33 442.48,626.72 442.8,628.5C443.12,630.28 444.55,633.25 444.9,634.2C445.7,634.06 448.09,633.66 449.67,633.33C451.25,633 452.82,632.62 454.38,632.2C455.93,631.78 457.48,631.31 459.01,630.81C460.54,630.3 462.06,629.76 463.56,629.17C465.06,628.59 466.56,627.96 468.03,627.3C469.51,626.64 470.97,625.94 472.41,625.21C473.86,624.47 475.29,623.7 476.7,622.9C478.11,622.09 479.51,621.26 480.89,620.38C482.27,619.51 483.63,618.61 484.98,617.68C486.32,616.74 487.65,615.78 488.95,614.78C490.26,613.79 491.55,612.77 492.82,611.72C494.09,610.67 495.34,609.59 496.56,608.49C497.79,607.39 499,606.26 500.19,605.1C501.37,603.95 502.54,602.77 503.68,601.58C504.82,600.38 505.95,599.16 507.04,597.92C508.14,596.67 509.21,595.41 510.26,594.13C511.31,592.85 512.34,591.55 513.34,590.23C514.34,588.92 515.32,587.58 516.27,586.23C517.22,584.88 518.15,583.52 519.05,582.14C519.95,580.76 520.82,579.37 521.67,577.96C522.51,576.56 523.33,575.14 524.12,573.72C524.91,572.29 525.67,570.85 526.41,569.41C527.14,567.96 527.84,566.5 528.52,565.04C529.19,563.58 529.84,562.11 530.45,560.64C531.06,559.16 531.91,556.94 532.2,556.2Z"/></g>
<clipPath id="rp"><polygon points="755.5,15.9 1224.3,17.4 1224.3,1262.4 755.5,1262.4"/></clipPath>
</defs>
<g class="dash1">
<path d="M323.2,777.5 V765.2 H352.1"/>
<path d="M552.2,765.2 H580.1 V777.5"/>
<path d="M323.2,891.9 V904.3 H352.1"/>
<path d="M552.2,904.3 H580.1 V891.9"/>
<path d="M357.2,765.2H376.8M382.1,765.2H404.9M410.7,765.2H433.7M439,765.2H461.6M467.3,765.2H489.7M495.6,765.2H518.4M524.3,765.2H546.8M357.2,904.3H376.8M382.1,904.3H404.9M410.7,904.3H433.7M439,904.3H461.6M467.3,904.3H489.7M495.6,904.3H518.4M524.3,904.3H546.8M323.2,783.1V805.6M323.2,817.5V851.9M323.2,863.75V886.25M580.1,783.1V805.6M580.1,811.9V857.5M580.1,863.75V886.25"/>
</g>
<g class="ln">
<use href="#leaf"/>
<path d="M445.9,699.4 L446.97,704.13 L447.97,708.87 L448.91,713.65 L449.78,718.43 L450.56,723.24 L451.26,728.06 L451.87,732.89 L452.37,737.73 L452.77,742.58 L453.06,747.43 L453.22,752.28 L453.26,757.13 L453.17,761.98 L452.95,766.82 L452.57,771.66 L452.05,776.48 L451.36,781.28 L450.51,786.08 L449.5,790.85 L448.3,795.6 L456.9,795.6 L458.06,790.67 L459.04,785.73 L459.85,780.78 L460.5,775.83 L460.99,770.86 L461.34,765.89 L461.54,760.92 L461.61,755.94 L461.55,750.96 L461.37,745.98 L461.08,741.01 L460.69,736.03 L460.19,731.06 L459.61,726.1 L458.94,721.14 L458.2,716.19 L457.38,711.25 L456.51,706.32 L455.58,701.4 L454.6,696.5Z" fill="#fff" stroke="none" style="fill:#fff;stroke:none"/>
<path d="M442.2,678.6C442.35,679.4 442.81,681.8 443.13,683.4C443.44,685.01 443.75,686.61 444.07,688.22C444.38,689.83 444.7,691.44 445.02,693.05C445.33,694.67 445.65,696.28 445.96,697.9C446.27,699.51 446.59,701.13 446.89,702.75C447.2,704.37 447.5,705.99 447.8,707.62C448.1,709.24 448.39,710.86 448.67,712.49C448.96,714.11 449.23,715.74 449.5,717.37C449.77,719 450.03,720.63 450.27,722.26C450.52,723.89 450.76,725.52 450.98,727.15C451.2,728.78 451.42,730.41 451.61,732.05C451.81,733.68 451.99,735.31 452.16,736.95C452.33,738.58 452.48,740.21 452.61,741.85C452.74,743.48 452.86,745.12 452.96,746.75C453.05,748.39 453.13,750.02 453.18,751.65C453.24,753.29 453.27,754.92 453.28,756.56C453.29,758.19 453.28,759.82 453.25,761.46C453.21,763.09 453.15,764.72 453.07,766.35C452.98,767.98 452.87,769.62 452.72,771.25C452.58,772.87 452.42,774.5 452.22,776.13C452.02,777.76 451.79,779.39 451.53,781.01C451.27,782.64 450.98,784.26 450.66,785.88C450.33,787.51 449.97,789.13 449.58,790.75C449.19,792.37 448.51,794.79 448.3,795.6"/><path d="M454.6,696.5C454.76,697.32 455.26,699.77 455.58,701.4C455.9,703.04 456.21,704.68 456.51,706.32C456.81,707.96 457.1,709.61 457.38,711.25C457.67,712.9 457.94,714.54 458.2,716.19C458.46,717.84 458.71,719.49 458.94,721.14C459.18,722.79 459.4,724.45 459.61,726.1C459.82,727.75 460.01,729.41 460.19,731.06C460.37,732.72 460.54,734.38 460.69,736.03C460.84,737.69 460.97,739.35 461.08,741.01C461.2,742.67 461.29,744.33 461.37,745.98C461.45,747.64 461.51,749.3 461.55,750.96C461.59,752.62 461.61,754.28 461.61,755.94C461.61,757.6 461.58,759.26 461.54,760.92C461.49,762.58 461.43,764.23 461.34,765.89C461.24,767.55 461.13,769.21 460.99,770.86C460.85,772.52 460.69,774.17 460.5,775.83C460.31,777.48 460.09,779.13 459.85,780.78C459.61,782.43 459.34,784.08 459.04,785.73C458.74,787.38 458.41,789.03 458.06,790.67C457.7,792.32 457.09,794.78 456.9,795.6"/>
<path class="w" d="M336.2,825.2 L335.3,856 A115.35,29.4 0 0 0 566,856 L565.1,825.2 Z"/>
<ellipse cx="450.65" cy="825.2" rx="114.45" ry="27.05" class="w"/>
<path class="w" d="M438.1,797.9 L438.1,826.5 A13.3,3 0 0 0 464.7,826.5 L464.7,797.9 Z"/>
<ellipse cx="451.4" cy="797.9" rx="13.3" ry="4.1" class="w"/>
<ellipse cx="451.8" cy="797.3" rx="9.6" ry="2.4"/>
<path d="M448.2,796.6 A4.4,1.3 0 0 0 457,796.6"/>
</g>
<g class="ln2">
<line x1="580" y1="834.6" x2="588.7" y2="834.6"/>
<line x1="593.4" y1="834.6" x2="620.3" y2="834.6"/>
<line x1="632.5" y1="834.6" x2="658.5" y2="834.6"/>
<line x1="668.8" y1="834.6" x2="691" y2="834.6"/>
<polygon points="697.3,795.6 697.3,873.6 750.2,834.6" fill="none"/>
</g>
<g class="dim">
<line x1="254.2" y1="285.3" x2="556.9" y2="285.3"/>
<line x1="254.2" y1="271.9" x2="254.2" y2="298.7" style="stroke-width:2"/>
<line x1="240.5" y1="298.4" x2="267.5" y2="272.1" style="stroke-width:1.3"/>
<line x1="556.9" y1="271.9" x2="556.9" y2="298.7" style="stroke-width:2"/>
<line x1="543.7" y1="298.4" x2="570.2" y2="272.3" style="stroke-width:1.3"/>
<line x1="192.3" y1="325.1" x2="192.3" y2="884.8"/>
<line x1="178" y1="325.1" x2="205.8" y2="325.1" style="stroke-width:2"/>
<line x1="178.5" y1="312" x2="205.4" y2="338.6" style="stroke-width:1.3"/>
<line x1="178.4" y1="884.8" x2="205.4" y2="884.8" style="stroke-width:2"/>
<line x1="178.4" y1="871.8" x2="205.5" y2="898.1" style="stroke-width:1.3"/>
<line x1="334.9" y1="970.5" x2="565.6" y2="970.5"/>
<line x1="334.9" y1="957.4" x2="334.9" y2="984.2" style="stroke-width:2"/>
<line x1="322.3" y1="984.2" x2="347.9" y2="958.1" style="stroke-width:1.3"/>
<line x1="565.6" y1="957.4" x2="565.6" y2="984.2" style="stroke-width:2"/>
<line x1="553.1" y1="984.2" x2="579.2" y2="957.4" style="stroke-width:1.3"/>
<line x1="281.9" y1="824.4" x2="281.9" y2="855.2" style="stroke-width:1"/>
<line x1="268.4" y1="824.1" x2="295.3" y2="824.1" style="stroke-width:1.9"/>
<line x1="268.4" y1="855.4" x2="295.3" y2="855.4" style="stroke-width:1.9"/>
<line x1="268.75" y1="811.1" x2="294.9" y2="837.4" style="stroke-width:1.3"/>
<line x1="268.75" y1="842.4" x2="294.9" y2="868.6" style="stroke-width:1.3"/>
</g>
<g clip-path="url(#rp)" class="ln"><path d="M755.3,170.2C756.05,170.58 758.29,171.74 759.8,172.49C761.31,173.23 762.83,173.95 764.35,174.65C765.88,175.35 767.41,176.03 768.94,176.69C770.48,177.34 772.03,177.98 773.58,178.6C775.13,179.22 776.68,179.81 778.25,180.39C779.81,180.96 781.38,181.52 782.95,182.05C784.53,182.59 786.11,183.1 787.69,183.59C789.27,184.09 790.86,184.56 792.46,185.01C794.05,185.46 795.65,185.89 797.25,186.3C798.85,186.7 800.46,187.09 802.07,187.46C803.68,187.82 805.29,188.17 806.91,188.49C808.53,188.82 810.15,189.12 811.77,189.41C813.39,189.69 815.02,189.95 816.65,190.19C818.27,190.43 819.91,190.65 821.54,190.85C823.17,191.04 824.8,191.22 826.44,191.38C828.08,191.53 829.71,191.67 831.35,191.78C832.99,191.89 834.63,191.98 836.27,192.05C837.91,192.12 839.55,192.17 841.19,192.2C842.83,192.23 844.47,192.24 846.11,192.22C847.75,192.21 849.39,192.17 851.03,192.11C852.67,192.05 854.31,191.98 855.95,191.88C857.58,191.77 859.22,191.65 860.85,191.51C862.49,191.37 864.12,191.2 865.75,191.01C867.38,190.83 869.01,190.62 870.64,190.39C872.27,190.16 873.89,189.91 875.51,189.64C877.14,189.37 878.75,189.08 880.37,188.77C881.99,188.46 883.6,188.13 885.21,187.78C886.82,187.43 888.43,187.06 890.03,186.67C891.63,186.29 893.23,185.88 894.83,185.45C896.42,185.03 898.01,184.58 899.6,184.12C901.19,183.65 902.77,183.17 904.35,182.67C905.93,182.18 907.5,181.66 909.07,181.12C910.64,180.59 912.2,180.04 913.76,179.47C915.32,178.9 916.87,178.32 918.42,177.72C919.96,177.12 921.5,176.5 923.04,175.86C924.58,175.23 926.11,174.58 927.63,173.91C929.15,173.25 930.67,172.57 932.18,171.87C933.69,171.18 935.19,170.47 936.69,169.74C938.19,169.02 939.68,168.27 941.16,167.52C942.64,166.77 944.11,166 945.58,165.22C947.05,164.43 948.51,163.64 949.96,162.83C951.41,162.02 952.86,161.2 954.29,160.36C955.73,159.53 957.15,158.68 958.57,157.82C959.99,156.96 962.1,155.64 962.8,155.2C963.22,154.97 964.44,154.09 965.34,153.83C966.25,153.57 967.32,153.49 968.24,153.63C969.16,153.77 970.14,154.1 970.86,154.67C971.59,155.23 972.31,156.61 972.6,157C972.86,157.76 973.63,160.03 974.13,161.55C974.63,163.08 975.11,164.6 975.58,166.14C976.05,167.67 976.5,169.2 976.95,170.74C977.4,172.28 977.83,173.82 978.26,175.36C978.69,176.91 979.11,178.45 979.52,180C979.94,181.55 980.34,183.1 980.74,184.65C981.15,186.2 981.54,187.76 981.94,189.31C982.33,190.87 982.72,192.42 983.12,193.98C983.51,195.53 983.9,197.09 984.29,198.64C984.68,200.19 985.07,201.75 985.47,203.3C985.87,204.85 986.27,206.41 986.67,207.96C987.08,209.51 987.7,211.83 987.9,212.6L1002.2,205.3C1002.03,204.54 1001.5,202.25 1001.15,200.73C1000.8,199.2 1000.45,197.68 1000.09,196.16C999.74,194.63 999.39,193.11 999.03,191.59C998.68,190.06 998.32,188.54 997.96,187.02C997.61,185.5 997.25,183.97 996.9,182.45C996.54,180.93 996.19,179.4 995.83,177.88C995.48,176.35 995.13,174.83 994.78,173.31C994.43,171.78 994.08,170.26 993.73,168.73C993.39,167.21 993.04,165.68 992.7,164.15C992.36,162.63 992.03,161.1 991.69,159.57C991.36,158.04 991.03,156.52 990.7,154.99C990.38,153.46 990.05,151.93 989.74,150.4C989.42,148.87 989.11,147.33 988.8,145.8C988.5,144.27 988.05,141.97 987.9,141.2C987.95,140.77 987.92,139.27 988.2,138.6C988.48,137.93 989.03,137.58 989.6,137.2C990.17,136.82 991.27,136.45 991.6,136.3C992.37,136.01 994.7,135.14 996.24,134.55C997.78,133.95 999.31,133.35 1000.84,132.73C1002.37,132.11 1003.9,131.48 1005.41,130.84C1006.93,130.2 1008.45,129.55 1009.95,128.88C1011.46,128.22 1012.96,127.54 1014.46,126.85C1015.95,126.17 1017.44,125.47 1018.92,124.76C1020.41,124.05 1021.88,123.33 1023.36,122.6C1024.83,121.87 1026.29,121.12 1027.75,120.37C1029.21,119.61 1030.66,118.85 1032.11,118.07C1033.55,117.3 1034.99,116.51 1036.43,115.71C1037.86,114.92 1039.29,114.11 1040.71,113.29C1042.13,112.47 1043.54,111.64 1044.95,110.8C1046.35,109.96 1047.75,109.11 1049.15,108.24C1050.54,107.38 1051.93,106.51 1053.31,105.63C1054.69,104.74 1056.06,103.85 1057.42,102.95C1058.79,102.04 1060.15,101.13 1061.5,100.21C1062.85,99.28 1064.19,98.35 1065.53,97.4C1066.87,96.46 1068.2,95.5 1069.52,94.54C1070.84,93.57 1072.15,92.6 1073.46,91.61C1074.77,90.63 1076.06,89.63 1077.36,88.63C1078.65,87.62 1079.93,86.61 1081.21,85.58C1082.48,84.56 1083.75,83.52 1085.01,82.48C1086.27,81.43 1087.52,80.38 1088.76,79.32C1090.01,78.25 1091.24,77.18 1092.47,76.1C1093.7,75.02 1094.92,73.92 1096.13,72.82C1097.34,71.72 1098.54,70.61 1099.74,69.49C1100.93,68.37 1102.12,67.24 1103.3,66.1C1104.47,64.96 1105.64,63.81 1106.8,62.65C1107.96,61.5 1109.11,60.33 1110.26,59.16C1111.4,57.98 1112.53,56.8 1113.66,55.6C1114.78,54.41 1115.9,53.21 1117,51.99C1118.11,50.78 1119.21,49.56 1120.3,48.33C1121.39,47.1 1122.47,45.87 1123.54,44.62C1124.61,43.37 1125.67,42.12 1126.72,40.85C1127.77,39.59 1128.81,38.32 1129.84,37.04C1130.88,35.76 1131.9,34.47 1132.91,33.17C1133.93,31.87 1134.93,30.57 1135.92,29.25C1136.92,27.94 1137.9,26.61 1138.87,25.28C1139.85,23.95 1140.81,22.61 1141.77,21.27C1142.72,19.92 1144.13,17.88 1144.6,17.2"/><path d="M755.4,47.3C756.21,47.26 758.64,47.14 760.27,47.07C761.89,47 763.52,46.93 765.15,46.86C766.78,46.8 768.41,46.74 770.04,46.68C771.67,46.62 773.3,46.56 774.94,46.5C776.57,46.45 778.2,46.39 779.84,46.34C781.48,46.28 783.12,46.23 784.75,46.18C786.39,46.13 788.03,46.08 789.67,46.03C791.31,45.98 792.95,45.93 794.6,45.87C796.24,45.82 797.88,45.77 799.52,45.71C801.16,45.66 802.81,45.61 804.45,45.55C806.09,45.49 807.74,45.43 809.38,45.37C811.03,45.31 812.67,45.24 814.31,45.18C815.96,45.11 817.6,45.04 819.25,44.97C820.89,44.89 822.53,44.81 824.18,44.73C825.82,44.65 827.46,44.56 829.1,44.47C830.74,44.38 832.39,44.28 834.03,44.18C835.67,44.07 837.31,43.97 838.95,43.85C840.58,43.74 842.22,43.62 843.86,43.49C845.5,43.36 847.13,43.23 848.77,43.08C850.4,42.94 852.03,42.79 853.67,42.63C855.3,42.48 856.93,42.31 858.56,42.13C860.19,41.96 861.81,41.78 863.44,41.58C865.06,41.39 866.69,41.19 868.31,40.98C869.93,40.76 871.55,40.54 873.17,40.31C874.79,40.08 876.4,39.83 878.01,39.58C879.63,39.32 881.24,39.06 882.85,38.78C884.45,38.5 886.06,38.21 887.66,37.91C889.27,37.61 890.87,37.3 892.47,36.97C894.06,36.64 895.66,36.3 897.25,35.95C898.84,35.59 900.43,35.22 902.02,34.84C903.6,34.46 905.19,34.06 906.77,33.65C908.34,33.24 909.92,32.81 911.49,32.37C913.07,31.93 914.64,31.47 916.2,31C917.77,30.53 919.33,30.04 920.89,29.53C922.44,29.02 924,28.5 925.55,27.96C927.1,27.42 928.64,26.86 930.19,26.28C931.73,25.71 934.03,24.8 934.8,24.5C935.08,25.09 935.82,26.85 936.5,28.05C937.18,29.24 938.07,30.45 938.88,31.67C939.69,32.9 940.61,34.14 941.35,35.4C942.1,36.65 942.86,37.93 943.35,39.23C943.83,40.53 944.24,41.85 944.29,43.19C944.33,44.54 943.71,46.62 943.6,47.3C942.83,47.55 940.53,48.31 938.99,48.82C937.46,49.32 935.91,49.82 934.36,50.32C932.81,50.81 931.26,51.31 929.7,51.79C928.15,52.28 926.59,52.77 925.02,53.25C923.46,53.73 921.89,54.21 920.31,54.68C918.74,55.15 917.17,55.61 915.59,56.07C914.01,56.54 912.42,56.99 910.84,57.44C909.25,57.89 907.66,58.34 906.07,58.77C904.47,59.21 902.88,59.64 901.28,60.07C899.68,60.49 898.08,60.91 896.47,61.32C894.87,61.73 893.26,62.14 891.65,62.53C890.04,62.93 888.43,63.32 886.82,63.7C885.2,64.08 883.59,64.45 881.97,64.82C880.35,65.18 878.73,65.54 877.11,65.89C875.48,66.23 873.86,66.57 872.23,66.9C870.61,67.23 868.98,67.55 867.35,67.86C865.72,68.17 864.09,68.47 862.46,68.76C860.83,69.05 859.19,69.33 857.56,69.6C855.93,69.86 854.29,70.12 852.66,70.37C851.02,70.61 849.38,70.84 847.75,71.06C846.11,71.28 844.47,71.49 842.84,71.69C841.2,71.88 839.56,72.06 837.92,72.23C836.28,72.39 834.65,72.54 833.01,72.68C831.37,72.82 829.73,72.94 828.09,73.04C826.46,73.15 824.82,73.23 823.18,73.31C821.55,73.38 819.91,73.43 818.27,73.47C816.64,73.51 815,73.52 813.37,73.53C811.74,73.53 810.11,73.51 808.47,73.47C806.84,73.43 805.21,73.38 803.58,73.3C801.96,73.22 800.33,73.13 798.7,73.01C797.08,72.89 795.46,72.75 793.83,72.59C792.21,72.43 790.59,72.24 788.97,72.04C787.36,71.83 785.74,71.6 784.13,71.35C782.52,71.1 780.91,70.82 779.3,70.52C777.69,70.22 776.08,69.9 774.48,69.55C772.88,69.2 771.28,68.83 769.68,68.43C768.09,68.03 766.49,67.6 764.9,67.15C763.31,66.69 761.72,66.21 760.14,65.71C758.56,65.2 756.19,64.37 755.4,64.1"/><path d="M755.4,107.4C756.22,107.53 758.7,107.92 760.34,108.16C761.99,108.39 763.64,108.6 765.28,108.79C766.93,108.98 768.57,109.15 770.21,109.3C771.86,109.45 773.5,109.58 775.14,109.69C776.78,109.8 778.42,109.9 780.06,109.97C781.7,110.05 783.34,110.11 784.98,110.15C786.61,110.19 788.25,110.21 789.89,110.21C791.52,110.22 793.16,110.21 794.79,110.18C796.42,110.15 798.06,110.11 799.69,110.05C801.32,109.99 802.95,109.91 804.58,109.82C806.21,109.73 807.84,109.63 809.47,109.51C811.09,109.39 812.72,109.26 814.35,109.11C815.97,108.96 817.6,108.8 819.22,108.63C820.85,108.45 822.47,108.27 824.09,108.07C825.71,107.87 827.34,107.66 828.96,107.43C830.58,107.21 832.2,106.97 833.81,106.73C835.43,106.48 837.05,106.22 838.67,105.96C840.28,105.69 841.9,105.41 843.51,105.12C845.13,104.83 846.74,104.54 848.35,104.23C849.97,103.92 851.58,103.6 853.19,103.28C854.8,102.96 856.41,102.62 858.02,102.28C859.63,101.94 861.24,101.59 862.84,101.23C864.45,100.88 866.06,100.51 867.66,100.14C869.27,99.77 870.87,99.4 872.47,99.01C874.08,98.63 875.68,98.24 877.28,97.85C878.88,97.46 880.48,97.06 882.08,96.65C883.68,96.25 885.28,95.84 886.88,95.43C888.47,95.01 890.07,94.6 891.67,94.18C893.26,93.76 894.86,93.33 896.45,92.91C898.04,92.48 899.64,92.05 901.23,91.62C902.82,91.19 904.41,90.76 906,90.32C907.59,89.89 909.18,89.45 910.77,89.02C912.36,88.58 913.94,88.14 915.53,87.7C917.12,87.26 918.7,86.83 920.28,86.39C921.87,85.95 923.45,85.51 925.03,85.08C926.62,84.64 928.2,84.21 929.78,83.77C931.36,83.34 932.94,82.91 934.52,82.48C936.1,82.05 937.67,81.62 939.25,81.2C940.83,80.78 942.4,80.36 943.98,79.94C945.55,79.52 947.91,78.91 948.7,78.7C949.16,79.27 950.6,80.92 951.44,82.11C952.28,83.3 953.04,84.54 953.74,85.82C954.43,87.1 955.05,88.43 955.62,89.77C956.18,91.12 956.67,92.51 957.1,93.91C957.53,95.3 957.9,96.73 958.21,98.16C958.52,99.59 958.77,101.04 958.97,102.48C959.17,103.92 959.33,106.08 959.4,106.8C958.71,107.27 956.65,108.68 955.25,109.59C953.86,110.5 952.45,111.4 951.04,112.26C949.62,113.13 948.19,113.98 946.76,114.81C945.32,115.64 943.87,116.45 942.41,117.24C940.96,118.03 939.49,118.79 938.01,119.54C936.54,120.29 935.05,121.02 933.56,121.72C932.06,122.43 930.56,123.12 929.04,123.78C927.53,124.45 926.01,125.1 924.48,125.72C922.95,126.35 921.42,126.96 919.87,127.54C918.33,128.13 916.78,128.7 915.22,129.24C913.66,129.79 912.1,130.32 910.53,130.82C908.95,131.33 907.37,131.82 905.79,132.28C904.21,132.75 902.62,133.2 901.02,133.63C899.42,134.05 897.82,134.46 896.22,134.85C894.61,135.24 893,135.61 891.38,135.95C889.77,136.3 888.15,136.63 886.52,136.94C884.9,137.25 883.27,137.54 881.64,137.81C880,138.08 878.37,138.34 876.73,138.57C875.09,138.8 873.45,139.01 871.8,139.21C870.16,139.4 868.51,139.57 866.86,139.73C865.21,139.88 863.56,140.02 861.9,140.13C860.25,140.25 858.59,140.35 856.94,140.43C855.28,140.5 853.62,140.56 851.97,140.6C850.31,140.64 848.65,140.66 846.99,140.67C845.33,140.67 843.67,140.65 842.01,140.61C840.35,140.58 838.69,140.52 837.03,140.45C835.37,140.38 833.71,140.28 832.06,140.17C830.4,140.06 828.75,139.93 827.09,139.78C825.44,139.63 823.79,139.47 822.14,139.28C820.49,139.09 818.84,138.89 817.19,138.67C815.55,138.44 813.9,138.2 812.26,137.94C810.62,137.68 808.99,137.4 807.35,137.1C805.72,136.81 804.09,136.49 802.47,136.16C800.84,135.82 799.22,135.47 797.6,135.1C795.99,134.73 794.37,134.34 792.77,133.93C791.16,133.53 789.56,133.1 787.96,132.66C786.36,132.21 784.77,131.75 783.19,131.27C781.6,130.79 780.02,130.3 778.45,129.78C776.88,129.26 775.31,128.73 773.75,128.18C772.19,127.63 770.64,127.06 769.09,126.47C767.55,125.88 766.01,125.28 764.48,124.65C762.95,124.03 761.43,123.39 759.92,122.73C758.4,122.07 756.15,121.04 755.4,120.7"/><path d="M1072.8,17.4C1072.18,17.95 1070.35,19.61 1069.11,20.69C1067.86,21.76 1066.61,22.82 1065.34,23.86C1064.07,24.9 1062.79,25.92 1061.5,26.93C1060.21,27.93 1058.91,28.92 1057.6,29.89C1056.29,30.87 1054.97,31.83 1053.64,32.77C1052.31,33.71 1050.97,34.64 1049.62,35.56C1048.27,36.47 1046.92,37.37 1045.55,38.26C1044.19,39.15 1042.81,40.03 1041.44,40.89C1040.06,41.76 1038.67,42.61 1037.28,43.46C1035.88,44.3 1034.48,45.14 1033.08,45.96C1031.67,46.79 1030.26,47.6 1028.85,48.41C1027.43,49.22 1026.01,50.02 1024.59,50.81C1023.17,51.61 1021.74,52.39 1020.31,53.17C1018.88,53.95 1017.44,54.73 1016,55.5C1014.57,56.27 1013.13,57.03 1011.68,57.79C1010.24,58.55 1008.8,59.31 1007.35,60.07C1005.91,60.82 1004.46,61.57 1003.02,62.32C1001.57,63.08 1000.13,63.83 998.69,64.58C997.24,65.34 995.8,66.09 994.37,66.86C992.93,67.62 991.5,68.38 990.07,69.16C988.64,69.93 987.22,70.71 985.8,71.51C984.39,72.3 982.98,73.1 981.58,73.92C980.18,74.73 978.1,75.99 977.4,76.4C977.43,77.03 977.46,78.81 977.58,80.2C977.7,81.59 977.84,83.23 978.12,84.74C978.4,86.25 978.74,87.88 979.25,89.27C979.77,90.65 980.38,92.03 981.21,93.05C982.04,94.06 983,94.95 984.22,95.34C985.43,95.73 987.79,95.39 988.5,95.4C989.28,95.15 991.64,94.4 993.2,93.87C994.76,93.35 996.32,92.8 997.87,92.24C999.42,91.68 1000.97,91.1 1002.51,90.5C1004.05,89.9 1005.58,89.29 1007.11,88.66C1008.64,88.03 1010.16,87.38 1011.68,86.71C1013.19,86.05 1014.7,85.36 1016.2,84.67C1017.71,83.97 1019.2,83.25 1020.69,82.52C1022.18,81.79 1023.66,81.04 1025.13,80.28C1026.6,79.51 1028.07,78.73 1029.53,77.94C1030.98,77.14 1032.43,76.33 1033.87,75.5C1035.31,74.68 1036.75,73.83 1038.17,72.98C1039.59,72.12 1041.01,71.25 1042.41,70.36C1043.82,69.47 1045.22,68.57 1046.6,67.65C1047.99,66.73 1049.37,65.8 1050.73,64.86C1052.1,63.91 1053.46,62.95 1054.8,61.98C1056.15,61 1057.49,60.01 1058.81,59.01C1060.14,58.01 1061.45,56.99 1062.75,55.96C1064.06,54.93 1065.35,53.89 1066.63,52.83C1067.91,51.77 1069.18,50.7 1070.44,49.62C1071.7,48.54 1072.94,47.44 1074.17,46.33C1075.41,45.22 1076.63,44.1 1077.84,42.97C1079.04,41.83 1080.24,40.68 1081.42,39.52C1082.6,38.37 1083.77,37.19 1084.93,36.01C1086.08,34.83 1087.22,33.63 1088.35,32.43C1089.48,31.22 1090.6,30 1091.7,28.77C1092.8,27.54 1093.88,26.3 1094.95,25.05C1096.02,23.79 1097.08,22.53 1098.12,21.26C1099.16,19.98 1100.69,18.04 1101.2,17.4"/><path d="M965.1,17C965.42,17.83 966.05,20.32 967,22C967.95,23.68 969.32,25.83 970.8,27.1C972.28,28.37 975.05,29.18 975.9,29.6C977.58,28.65 982.42,26 986,23.9C989.58,21.8 995.5,18.15 997.4,17"/></g>
<g class="ln"><path d="M976,167C976.2,167.8 976.81,170.2 977.21,171.8C977.62,173.41 978.01,175.01 978.41,176.62C978.8,178.23 979.19,179.84 979.57,181.45C979.95,183.06 980.33,184.67 980.71,186.29C981.08,187.9 981.45,189.52 981.82,191.14C982.18,192.76 982.54,194.38 982.9,196C983.25,197.62 983.6,199.25 983.95,200.87C984.29,202.5 984.63,204.12 984.97,205.75C985.3,207.38 985.63,209.01 985.95,210.64C986.27,212.27 986.59,213.9 986.9,215.54C987.21,217.17 987.52,218.81 987.82,220.44C988.12,222.08 988.41,223.71 988.7,225.35C988.98,226.99 989.26,228.63 989.54,230.27C989.81,231.91 990.08,233.56 990.34,235.2C990.6,236.84 990.85,238.48 991.1,240.13C991.35,241.77 991.59,243.42 991.82,245.07C992.05,246.71 992.28,248.36 992.5,250.01C992.71,251.66 992.92,253.31 993.13,254.96C993.33,256.61 993.53,258.26 993.71,259.91C993.9,261.56 994.08,263.21 994.26,264.86C994.43,266.51 994.59,268.17 994.75,269.82C994.9,271.47 995.05,273.13 995.19,274.78C995.33,276.43 995.46,278.09 995.58,279.74C995.71,281.4 995.82,283.05 995.93,284.71C996.03,286.36 996.13,288.02 996.21,289.67C996.3,291.33 996.38,292.98 996.45,294.64C996.52,296.29 996.58,297.95 996.63,299.6C996.68,301.26 996.72,302.92 996.75,304.57C996.78,306.23 996.81,307.88 996.82,309.54C996.83,311.19 996.83,312.85 996.82,314.5C996.82,316.16 996.8,317.81 996.77,319.46C996.74,321.12 996.7,322.77 996.65,324.43C996.61,326.08 996.55,327.73 996.48,329.38C996.41,331.04 996.33,332.69 996.23,334.34C996.14,335.99 996.04,337.64 995.93,339.29C995.81,340.94 995.69,342.59 995.55,344.24C995.42,345.89 995.27,347.54 995.11,349.19C994.96,350.83 994.79,352.48 994.6,354.12C994.42,355.77 994.23,357.41 994.02,359.06C993.82,360.7 993.6,362.34 993.37,363.99C993.14,365.63 992.9,367.27 992.65,368.91C992.4,370.55 992.13,372.19 991.85,373.82C991.57,375.46 991.28,377.1 990.98,378.73C990.68,380.37 990.36,382 990.03,383.63C989.7,385.26 989.36,386.89 989,388.52C988.65,390.15 988.28,391.78 987.9,393.41C987.52,395.03 987.12,396.66 986.71,398.28C986.31,399.9 985.88,401.53 985.45,403.15C985.01,404.77 984.32,407.19 984.1,408"/><path d="M999.2,207.4C999.4,208.2 1000.01,210.61 1000.4,212.22C1000.79,213.83 1001.17,215.44 1001.54,217.05C1001.91,218.66 1002.28,220.27 1002.63,221.89C1002.98,223.5 1003.32,225.12 1003.65,226.74C1003.98,228.36 1004.3,229.98 1004.61,231.6C1004.92,233.22 1005.22,234.84 1005.51,236.46C1005.8,238.09 1006.08,239.71 1006.35,241.34C1006.63,242.97 1006.89,244.6 1007.14,246.23C1007.39,247.85 1007.63,249.49 1007.86,251.12C1008.09,252.75 1008.31,254.38 1008.52,256.01C1008.73,257.65 1008.93,259.28 1009.12,260.92C1009.31,262.55 1009.49,264.19 1009.67,265.83C1009.84,267.47 1010,269.1 1010.15,270.74C1010.3,272.38 1010.44,274.02 1010.57,275.66C1010.7,277.3 1010.82,278.94 1010.93,280.58C1011.04,282.23 1011.14,283.87 1011.23,285.51C1011.32,287.15 1011.4,288.79 1011.47,290.44C1011.54,292.08 1011.6,293.72 1011.65,295.37C1011.71,297.01 1011.75,298.66 1011.78,300.3C1011.81,301.94 1011.83,303.59 1011.84,305.23C1011.85,306.88 1011.85,308.52 1011.84,310.17C1011.83,311.81 1011.81,313.45 1011.78,315.1C1011.75,316.74 1011.71,318.39 1011.66,320.03C1011.61,321.67 1011.55,323.32 1011.48,324.96C1011.41,326.6 1011.33,328.25 1011.24,329.89C1011.15,331.53 1011.05,333.17 1010.94,334.81C1010.83,336.45 1010.71,338.1 1010.58,339.74C1010.45,341.38 1010.31,343.02 1010.16,344.65C1010.01,346.29 1009.85,347.93 1009.68,349.57C1009.51,351.21 1009.33,352.84 1009.14,354.48C1008.95,356.11 1008.74,357.75 1008.53,359.38C1008.32,361.02 1008.1,362.65 1007.87,364.28C1007.64,365.91 1007.4,367.54 1007.15,369.17C1006.9,370.8 1006.64,372.43 1006.37,374.06C1006.1,375.68 1005.82,377.31 1005.53,378.93C1005.23,380.56 1004.93,382.18 1004.62,383.8C1004.31,385.42 1003.99,387.04 1003.66,388.66C1003.33,390.28 1002.99,391.9 1002.63,393.51C1002.28,395.13 1001.92,396.74 1001.55,398.35C1001.18,399.96 1000.8,401.57 1000.41,403.18C1000.01,404.79 999.4,407.2 999.2,408"/>
<line x1="984.1" y1="408" x2="999.2" y2="408"/>
</g>
<g class="dash2">
<line x1="755.5" y1="15.9" x2="1224.3" y2="17.4"/>
<line x1="755.5" y1="15.9" x2="755.5" y2="1262.4"/>
<line x1="1224.3" y1="17.4" x2="1224.3" y2="1262.4"/>
<line x1="755.6" y1="1262.4" x2="1224.3" y2="1262.4"/>
</g>
<g class="ln">
<line x1="916.4" y1="312.3" x2="916.4" y2="382"/>
<polygon points="899.2,382 933.3,382 916.4,407.6" fill="none"/>
<line x1="916.4" y1="460.7" x2="916.4" y2="530"/>
<polygon points="899.5,530 933.2,530 916.3,555" fill="none"/>
<path d="M948.8,478.8 A42.3,25 0 0 1 1033.3,475.8"/>
<polygon points="1016.9,475.9 1050.25,475.9 1033.5,501" fill="none"/>
<path class="w" d="M974,500 L974,529.4 A17.4,10.5 0 0 0 1008.8,529.4 L1008.8,500 Z"/>
<ellipse cx="991.4" cy="499.9" rx="17.4" ry="10.1" class="w"/>
<ellipse cx="991.1" cy="498.3" rx="8.6" ry="5.2"/>
<ellipse cx="999.2" cy="518.4" rx="3.8" ry="6.7"/>
<path d="M999.6,512 A2.8,6.2 0 0 0 999.6,524.8" style="stroke-width:1"/><path d="M1001.2,512.3 A2.6,6 0 0 0 1001.2,524.5" style="stroke-width:1"/>
<rect x="1070" y="513.7" width="17.1" height="14.2" rx="4.5" ry="6.5" fill="none"/>
<path d="M1074.6,514.6 A3.4,6.4 0 0 0 1074.6,527" style="stroke-width:1"/>
<path d="M1076.8,514.6 A3.4,6.4 0 0 0 1076.8,527" style="stroke-width:1"/>
<path d="M1079,514.6 A3.4,6.4 0 0 0 1079,527" style="stroke-width:1"/>
<path d="M1081.2,514.6 A3.4,6.4 0 0 0 1081.2,527" style="stroke-width:1"/>
<line x1="1082" y1="514.2" x2="1082" y2="527.4" style="stroke-width:1.6"/>
<path d="M1101.3,496.1 C1111,500 1114,515 1111.5,525 C1108,540 1095,555 1084.3,555.4"/>
<polygon points="1065.3,549.3 1086.6,544 1078.1,566.8" fill="none"/>
<line x1="1088.5" y1="581.5" x2="1041.6" y2="564.4"/>
<polygon points="1024,557.3 1045.8,552.3 1037,575.4" fill="none"/>
<path class="w" d="M786.5,752.7 L786.5,787.3 A204.5,124 2.5 0 0 1195.6,801.8 L1195.6,765.5 Z"/>
<ellipse cx="991" cy="759.3" rx="204.6" ry="120" class="w" transform="rotate(2.5 991 759.3)"/>
<ellipse cx="991.3" cy="758.9" rx="17.6" ry="9.5"/>
<path d="M979.5,766.3 Q991.3,759.5 1003.1,766.3"/>
<line x1="916.2" y1="1060.9" x2="916.2" y2="991.7"/>
<polygon points="899.7,991.7 933.4,991.7 916.2,966.4" fill="none"/>
<path class="w" d="M973.4,995.3 L973.4,1040.3 A17.65,9.8 0 0 0 1008.7,1040.3 L1008.7,995.3 Z"/>
<ellipse cx="991.05" cy="995.3" rx="17.65" ry="9.85" class="w"/>
<ellipse cx="991.1" cy="995.65" rx="15.3" ry="8"/>
<ellipse cx="991.1" cy="995.9" rx="16.3" ry="8.9" style="stroke-width:0.7"/>
<path d="M973.4,1001.9 A17.65,9.3 0 0 0 1008.7,1001.9"/>
<path d="M973.4,1006.3 A17.65,9.3 0 0 0 1008.7,1006.3"/>
<path d="M973.4,1010.7 A17.65,9.3 0 0 0 1008.7,1010.7"/>
<path d="M973.4,1015.1 A17.65,9.3 0 0 0 1008.7,1015.1"/>
<path d="M973.4,1019.3 A17.65,9.3 0 0 0 1008.7,1019.3"/>
<path d="M973.4,1023.5 A17.65,9.3 0 0 0 1008.7,1023.5"/>
<path d="M973.4,1027.7 A17.65,9.3 0 0 0 1008.7,1027.7"/>
<path d="M973.4,1032 A17.65,9.3 0 0 0 1008.7,1032"/>
<path d="M973.4,1036.3 A17.65,9.3 0 0 0 1008.7,1036.3"/>
<path d="M949.3,1042.4 A42.1,24.7 0 0 0 1033.5,1045.7"/>
<polygon points="1017.1,1045.7 1050.5,1045.7 1033.5,1020.5" fill="none"/>
<line x1="916.4" y1="1197.2" x2="916.4" y2="1127"/>
<polygon points="899.9,1127 933.6,1127 916.4,1102.4" fill="none"/>
<path class="w" d="M963.2,1117.4 L991.3,1108.3 L1020.2,1117.4 L1019.2,1150.4 L991.3,1158 L963.6,1150.4 Z"/>
<path d="M963.6,1135.7 L991.3,1142.8 L1019.2,1136.2 M991.3,1142.8 L991.3,1158"/>
<ellipse cx="991.3" cy="1125" rx="17.3" ry="9.6"/>
<path d="M975.2,1127.5 A16.1,7.5 0 0 1 1007.4,1127.5" style="stroke-width:0.8"/>
<path d="M975.8,1130 A15.5,6.5 0 0 1 1006.8,1130" style="stroke-width:0.8"/>
<ellipse cx="991.05" cy="1129.4" rx="15" ry="5.4"/>
<path d="M949.1,1178.4 A42.2,24.9 0 0 0 1033.4,1181.4"/>
<polygon points="1017.2,1181.4 1050.7,1181.4 1033.4,1156.5" fill="none"/>
</g>
<g class="ln2">
<line x1="991.4" y1="411.5" x2="991.4" y2="434"/>
<line x1="991.4" y1="443.75" x2="991.4" y2="466.25"/>
<line x1="991.4" y1="476.9" x2="991.4" y2="498.75"/>
<line x1="991.4" y1="557.2" x2="991.4" y2="579.7"/>
<line x1="991.4" y1="591.9" x2="991.4" y2="614.4"/>
<line x1="991.4" y1="631.25" x2="991.4" y2="652.8"/>
<line x1="991.4" y1="674.4" x2="991.4" y2="696.9"/>
<line x1="991.4" y1="711.9" x2="991.4" y2="734.4"/>
<line x1="991.4" y1="743.75" x2="991.4" y2="764.4"/>
<line x1="991.4" y1="923.1" x2="991.4" y2="945.6"/>
<line x1="991.4" y1="951.2" x2="991.4" y2="974.1"/>
<line x1="991.4" y1="978.8" x2="991.4" y2="1001"/>
<line x1="991.4" y1="1050" x2="991.4" y2="1068.7"/>
<line x1="991.4" y1="1076.9" x2="991.4" y2="1099.6"/>
<line x1="991.4" y1="1104.2" x2="991.4" y2="1126.6"/>
</g>
<g class="t">
<text transform="translate(318.3,272.2) scale(0.9360,1)" font-size="50.4">18 cm / 7&quot;</text>
<text transform="translate(334,949.8) scale(0.9580,1)" font-size="49.5">13 cm / 5,1&quot;</text>
<text transform="translate(178.7,736.7) rotate(-90) scale(0.9790,1)" font-size="49.2">28 cm / 11&quot;</text>
<text transform="translate(261,944.4) rotate(-90) scale(0.9750,1)" font-size="48.8">2 cm / 0,7&quot;</text>
<text transform="translate(925,321.2)" font-size="32">4</text>
<text transform="translate(924,468.1)" font-size="32">3</text>
<text transform="translate(1102.2,580.1)" font-size="33">5</text>
<text transform="translate(927.3,1060.2)" font-size="32">2</text>
<text transform="translate(925.8,1196.6)" font-size="32">1</text>
<text transform="translate(59.2,1072.1)" font-size="26" font-weight="bold" letter-spacing="1.8">MATERIAL</text>
<text transform="translate(59.2,1098.6)" font-size="26" font-weight="bold" letter-spacing="1.6">PAINT</text>
<text transform="translate(218.7,1072.1)" font-size="26" font-weight="bold">:</text>
<text transform="translate(218.7,1098.6)" font-size="26" font-weight="bold">:</text>
<text transform="translate(241.9,1072.1)" font-size="26" font-weight="bold">METAL</text>
<text transform="translate(241.5,1098.6)" font-size="26" font-weight="bold">ELECTROSTATIC POWDER COATING</text>
</g>
<g fill="#111" stroke="none">
<rect x="67.2" y="1122.4" width="28.7" height="2.7" rx="1.3"/>
<path d="M70,1124.8 L92.8,1124.8 L92.8,1138.5 C92.8,1144 88,1147.2 81.6,1147.2 C75,1147.2 70,1144 70,1138.5 Z"/>
<path fill="#fff" d="M72.8,1125.4 L89.5,1125.4 L89.5,1137.2 L86.3,1134.4 L81.9,1131.3 L77.5,1129.6 L72.8,1127.2 Z"/>
<rect x="78.1" y="1146" width="6.6" height="8.2"/>
<path d="M68.5,1154 L105,1153.6 L105,1164.8 L94.5,1166.3 L84.8,1166.9 L81.5,1168 L75.5,1166.8 L75.5,1163.5 L68.5,1163.5 C67,1163.5 66.6,1162.5 66.6,1161 L66.6,1156 C66.6,1154.8 67.3,1154 68.5,1154 Z"/>
<rect fill="#fff" x="92.2" y="1159.9" width="1.8" height="6"/>
<path d="M75.5,1165 L85.3,1167 C84,1172 83,1177 82,1181.5 C81.6,1183 82.5,1184 82.2,1185.5 C81.8,1187 80.5,1187.6 78.5,1187.6 L69.5,1187.6 C67.6,1187.6 66.8,1186.5 66.9,1184.6 C67.2,1181.5 68.5,1178.5 70.5,1175.5 C72.5,1172.5 74.2,1169 75.5,1165 Z"/>
<path d="M86.9,1170 L89.6,1171.3 L87.6,1178.8 L85.2,1177.8 Z"/>
<path d="M106.3,1153.2 L109.3,1153.2 L109.3,1154.6 L114.2,1157.6 L114.2,1159.4 L109.3,1162.5 L109.3,1165.2 L106.3,1165.2 Z"/>
<circle cx="116.8" cy="1158.3" r="1.15"/>
<circle cx="120.3" cy="1156.1" r="1.15"/>
<circle cx="120.3" cy="1160.8" r="1.15"/>
<circle cx="123.9" cy="1153.7" r="1.15"/>
<circle cx="124.1" cy="1158.3" r="1.15"/>
<circle cx="123.9" cy="1163.1" r="1.15"/>
</g>
</svg></body></html>
